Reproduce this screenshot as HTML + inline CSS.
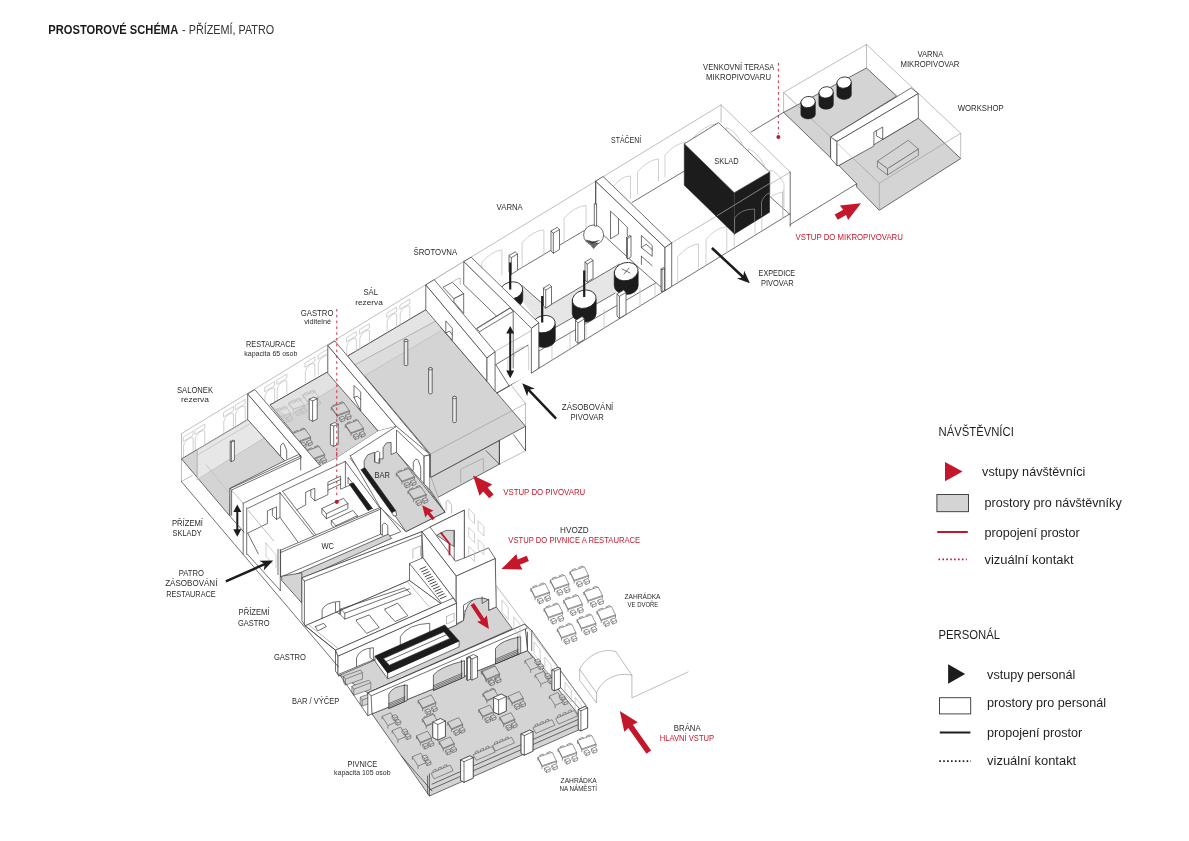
<!DOCTYPE html>
<html lang="cs">
<head>
<meta charset="utf-8">
<title>Prostorové schéma - přízemí, patro</title>
<style>
html,body{margin:0;padding:0;background:#fff;}
body{width:1189px;height:841px;overflow:hidden;font-family:"Liberation Sans",sans-serif;}
svg{display:block;}
text{font-family:"Liberation Sans",sans-serif;fill:#2b2b2b;}
.t{font-size:9.2px;}
.s{font-size:7.4px;}
.m{font-size:8px;}
.r{fill:#c4172c;}
.h{font-size:12.7px;fill:#1a1a1a;}
.lg{font-size:13.5px;fill:#1f1f1f;}
.lh{font-size:13.5px;fill:#1f1f1f;}
.g{fill:#d4d4d4;stroke:#333;stroke-width:.7;stroke-linejoin:round;}
.g0{fill:#d4d4d4;stroke:none;}
.g2{fill:#e6e6e6;stroke:none;}
.w{fill:#fff;stroke:#333;stroke-width:.7;stroke-linejoin:round;}
.w0{fill:#fff;stroke:none;}
.k{fill:#1c1c1c;stroke:#1c1c1c;stroke-width:.6;stroke-linejoin:round;}
.l{fill:none;stroke:#333;stroke-width:.7;stroke-linejoin:round;stroke-linecap:round;}
.n{fill:none;stroke:#9a9a9a;stroke-width:.65;stroke-linejoin:round;stroke-linecap:round;}
.n2{fill:none;stroke:#bcbcbc;stroke-width:.7;stroke-linejoin:round;stroke-linecap:round;}
.f{fill:none;stroke:#5c5c5c;stroke-width:.65;stroke-linejoin:round;}
.fw{fill:#fff;stroke:#666;stroke-width:.65;stroke-linejoin:round;}
.fg{fill:#d4d4d4;stroke:#5c5c5c;stroke-width:.65;stroke-linejoin:round;}
.ra{fill:#c4172c;stroke:none;}
.ka{fill:#1c1c1c;stroke:none;}
.rl{fill:none;stroke:#c4172c;stroke-width:2;}
.kl{fill:none;stroke:#1c1c1c;stroke-width:2;}
.rd{fill:none;stroke:#c4172c;stroke-width:.9;stroke-dasharray:2.6 3.2;}
</style>
</head>
<body>
<svg width="1189" height="841" viewBox="0 0 1189 841">
<rect width="1189" height="841" fill="#fff"/>
<polygon class="g" points="783.6,112.4 866.5,68 896.7,96.1 830.5,137.1 830.7,157.9"/>
<polygon class="g" points="838.9,165.5 918.4,118.2 960.7,158.6 879.3,210.3 856.6,187 856.6,183.8"/>
<polyline class="n" points="866.5,68 866.5,44.4"/>
<polyline class="n" points="783.6,92.4 866.5,44.4 960.7,133.3 879.3,183.2 783.6,92.4"/>
<polyline class="n" points="960.7,133.3 960.7,158.6"/>
<polyline class="n" points="879.3,183.2 879.3,210.3"/>
<polyline class="n" points="783.6,92.4 783.6,112.4"/>
<polygon class="w" points="830.5,137.1 911.2,87.9 918.2,93.6 837,141.5"/>
<polygon class="w" points="830.5,137.1 837,141.5 837,165.5 830.7,158.6"/>
<polygon class="w" points="837,141.5 918.2,93.6 918.4,118.2 882.7,139.3 882.7,127 873.9,132.1 873.9,146 838.9,165.5 837,165.5"/>
<polyline class="l" points="876.4,130.8 876.4,135.9 882.7,139.3"/>
<polyline class="n2" points="783.6,92.4 879.3,183.2"/>
<polygon class="fg" points="877.4,161.1 908.3,140.3 918.4,149.1 887.5,168.7"/>
<polygon class="fg" points="877.4,161.1 887.5,168.7 887.5,175 877.4,167.4"/>
<polygon class="fg" points="887.5,168.7 918.4,149.1 918.4,155.4 887.5,175"/>
<path class="k" d="M800.9 102.1 v12.3 a7.2 4.5 0 0 0 14.4 0 v-12.3 z"/>
<ellipse cx="808.1" cy="102.1" rx="7.2" ry="5.6" fill="#fff" stroke="#1c1c1c" stroke-width=".8" transform="rotate(-10 808.1 102.1)"/>
<path class="k" d="M818.9 92.4 v12.3 a7.2 4.5 0 0 0 14.4 0 v-12.3 z"/>
<ellipse cx="826.1" cy="92.4" rx="7.2" ry="5.6" fill="#fff" stroke="#1c1c1c" stroke-width=".8" transform="rotate(-10 826.1 92.4)"/>
<path class="k" d="M836.9 82.6 v12.3 a7.2 4.5 0 0 0 14.4 0 v-12.3 z"/>
<ellipse cx="844.1" cy="82.6" rx="7.2" ry="5.6" fill="#fff" stroke="#1c1c1c" stroke-width=".8" transform="rotate(-10 844.1 82.6)"/>
<line class="rd" x1="778.4" y1="63" x2="778.4" y2="134"/>
<circle cx="778.4" cy="137" r="2" fill="#c4172c"/>
<polyline class="l" points="783.6,112.4 750.9,132.1"/>
<polyline class="l" points="856.6,183.8 790.1,224.6"/>
<polyline class="n" points="181.5,433.6 721.1,104.8 790.2,172.1"/>
<polyline class="n" points="721.1,104.8 721.1,122"/>
<polyline class="n" points="790.2,172.1 671.7,242.9"/>
<polyline class="l" points="632,202.5 684.1,171.2"/>
<path class="n2" d="M613 208.7 L613 186.7 Q621.8 175.8 630.5 176 L630.5 198"/>
<path class="n2" d="M637.5 193.8 L637.5 171.8 Q648 159.8 658.5 159 L658.5 181"/>
<path class="n2" d="M665 177 L665 155 Q675.5 143 686 142.2 L686 164.2"/>
<path class="n2" d="M693 159.9 L693 137.9 Q704.5 125.3 716 123.9 L716 145.9"/>
<path class="n2" d="M726 151.5 L726 127.5 Q734 129.7 742 143 L742 167"/>
<path class="n2" d="M748 172.8 L748 148.8 Q756 151 764 164.3 L764 188.3"/>
<path class="n2" d="M770 194.1 L770 170.1 Q777 171.3 784 183.7 L784 207.7"/>
<polyline class="l" points="769.5,196.2 790.2,214.7"/>
<polyline class="l" points="790.2,172.1 790.2,226.4"/>
<polyline class="n2" points="783,190.3 783,217.2"/>
<polyline class="l" points="789.4,214.1 665,290.6"/>
<path class="n2" d="M677.7 282.8 L677.7 256.8 Q688.1 244.8 698.5 244 L698.5 270"/>
<path class="n2" d="M706 265.4 L706 239.4 Q716.4 227.4 726.8 226.6 L726.8 252.6"/>
<path class="n2" d="M734.2 248.1 L734.2 222.1 Q744.6 210.1 755 209.3 L755 235.3"/>
<path class="n2" d="M761.8 231.1 L761.8 205.1 Q772.2 193.1 782.6 192.3 L782.6 218.3"/>
<polygon class="k" points="684.3,143.8 734.3,192.7 734.5,234 684.3,185.2"/>
<polygon class="k" points="734.3,192.7 769.6,172 769.5,212.3 734.5,234"/>
<polygon class="w" points="684.3,143.8 718.6,122.6 769.6,172 734.3,192.7"/>
<polyline class="n" points="717.4,215.5 769.5,183.5" style="stroke:#bdbdbd"/>
<polyline class="n" points="734.3,192.7 734.5,234" style="stroke:#555;stroke-width:.5"/>
<path class="n" d="M734.6 232 v-14 q6 -9 20 -9 v12" style="stroke:#999"/>
<path class="n" d="M761.5 216 v-14 q3 -8 8 -9" style="stroke:#999"/>
<polyline class="l" points="517.8,270 584.3,230.5"/>
<path class="n2" d="M481.7 287.7 L481.7 262.7 Q491.8 250.7 501.9 250 L501.9 275"/>
<path class="n2" d="M522.1 267.5 L522.1 242.5 Q533 230.6 543.9 229.9 L543.9 254.9"/>
<path class="n2" d="M564.1 243.1 L564.1 218.1 Q575 206.2 586 205.5 L586 230.5"/>
<polygon class="w" points="538.8,351 665,277.5 665,290.6 538.8,368.3"/>
<polyline class="n2" points="552,360.2 552,342.2"/>
<polyline class="n2" points="570,349.1 570,331.1"/>
<polyline class="n2" points="586,339.2 586,321.2"/>
<polyline class="n2" points="604,328.2 604,310.2"/>
<polyline class="n2" points="622,317.1 622,299.1"/>
<polyline class="n2" points="640,306 640,288"/>
<polyline class="n2" points="655,296.8 655,278.8"/>
<polygon class="g2" points="522.3,285.8 546.5,307.3 619.2,264.2 619.2,290.5 553.2,328.8 539.1,323.4 516.9,293.8"/>
<polyline class="l" points="522.3,285.8 546.5,307.3 619.2,264.2"/>
<polyline class="l" points="553.2,328.8 615.1,293.2"/>
<polygon class="w" points="595.7,181.2 665,247.6 665,290.6 640,268.6 595.7,228"/>
<polygon class="w" points="595.7,181.2 603.1,176.5 671.7,242.9 665,247.6"/>
<polygon class="w" points="665,247.6 671.7,242.9 671.7,286.5 665,290.6"/>
<polygon class="w" points="610.5,211.2 618.5,218.6 618.5,234.1 610.5,238.8"/>
<polyline class="l" points="618.5,218.6 627.3,227.4 627.3,236.1"/>
<polygon class="w" points="641.4,235.4 652.2,245.5 652.2,256.3 641.4,247.6"/>
<polyline class="l" points="641.4,247.6 646.1,244.2 652.2,249.6"/>
<polyline class="l" points="641.4,256.3 652.2,265.7"/>
<polyline class="l" points="641.4,256.3 641.4,264.4"/>
<circle cx="593.6" cy="235" r="10" fill="#fff" stroke="#333" stroke-width=".7"/>
<polygon class="k" points="585.6,239.5 599,242.9 593.6,248.9" style="fill:#666;stroke:none"/>
<polyline class="l" points="592.3,242.9 599.2,240.5"/>
<polyline class="l" points="592.3,242.9 597,240.9"/>
<polyline class="l" points="592.3,242.9 593.6,241.2"/>
<polyline class="l" points="592.3,242.9 589.7,241.2"/>
<polyline class="l" points="592.3,242.9 586.3,240.9"/>
<polygon class="w" points="594.3,203.8 596.6,203.8 596.6,226 594.3,226"/>
<polyline class="l" points="595.7,181.2 595.7,203.8"/>
<polygon class="w" points="551,231 557.2,227.3 559.5,229.5 559.5,249.5 553.3,253.2 551,251"/>
<polyline class="l" points="551,231 553.3,233.2 559.5,229.5"/>
<polyline class="l" points="553.3,233.2 553.3,253.2"/>
<polygon class="w" points="509,255.5 515.2,251.8 517.5,254 517.5,270.5 511.3,274.2 509,272"/>
<polyline class="l" points="509,255.5 511.3,257.7 517.5,254"/>
<polyline class="l" points="511.3,257.7 511.3,274.2"/>
<polygon class="w" points="585,262 590.8,258.5 593,260.5 593,278.5 587.2,282.1 585,280"/>
<polyline class="l" points="585,262 587.2,264.1 593,260.5"/>
<polyline class="l" points="587.2,264.1 587.2,282.1"/>
<polygon class="w" points="543.5,288 549.3,284.5 551.5,286.5 551.5,304.5 545.7,308.1 543.5,306"/>
<polyline class="l" points="543.5,288 545.7,290.1 551.5,286.5"/>
<polyline class="l" points="545.7,290.1 545.7,308.1"/>
<polygon class="w" points="626.5,237.5 630,235.4 631,236.3 631,256.8 627.5,258.9 626.5,258"/>
<polyline class="l" points="626.5,237.5 627.5,238.4 631,236.3"/>
<polyline class="l" points="627.5,238.4 627.5,258.9"/>
<polygon class="w" points="661,269 663.4,267.6 664.4,268.5 664.4,290.5 662,291.9 661,291"/>
<polyline class="l" points="661,269 662,269.9 664.4,268.5"/>
<polyline class="l" points="662,269.9 662,291.9"/>
<path class="k" d="M499.8 290.5 v9 a11.5 8.5 0 0 0 23 0 v-9 z"/>
<ellipse cx="511.3" cy="290.5" rx="11.5" ry="8.5" fill="#fff" stroke="#1c1c1c" stroke-width=".8" transform="rotate(-14 511.3 290.5)"/>
<path class="k" d="M572.2 299.2 v14 a12 9 0 0 0 24 0 v-14 z"/>
<ellipse cx="584.2" cy="299.2" rx="12" ry="9" fill="#fff" stroke="#1c1c1c" stroke-width=".8" transform="rotate(-14 584.2 299.2)"/>
<path class="k" d="M614.2 271.6 v14 a12 9 0 0 0 24 0 v-14 z"/>
<ellipse cx="626.2" cy="271.6" rx="12" ry="9" fill="#fff" stroke="#1c1c1c" stroke-width=".8" transform="rotate(-14 626.2 271.6)"/>
<path class="k" d="M532.3 324.1 v15 a11.5 8.5 0 0 0 23 0 v-15 z"/>
<ellipse cx="543.8" cy="324.1" rx="11.5" ry="8.5" fill="#fff" stroke="#1c1c1c" stroke-width=".8" transform="rotate(-14 543.8 324.1)"/>
<polyline class="l" points="622,269 630,273"/>
<polyline class="l" points="624,274 629,268"/>
<line x1="510.2" y1="262.5" x2="510.2" y2="289.5" stroke="#1c1c1c" stroke-width="2.2"/>
<line x1="542.2" y1="296" x2="542.2" y2="322.5" stroke="#1c1c1c" stroke-width="2.2"/>
<line x1="584.2" y1="270.5" x2="584.2" y2="297" stroke="#1c1c1c" stroke-width="2.2"/>
<polygon class="w" points="575.5,320.5 582.1,316.6 584.5,318.9 584.5,339.4 577.9,343.3 575.5,341"/>
<polyline class="l" points="575.5,320.5 577.9,322.8 584.5,318.9"/>
<polyline class="l" points="577.9,322.8 577.9,343.3"/>
<polygon class="w" points="617,294 623.6,290.1 626,292.4 626,314.4 619.4,318.3 617,316"/>
<polyline class="l" points="617,294 619.4,296.3 626,292.4"/>
<polyline class="l" points="619.4,296.3 619.4,318.3"/>
<polygon class="g" points="347.8,356 425.8,309.8 525.5,426.3 430.5,477.6 430.5,454.1"/>
<polygon class="g2" points="347.8,356 425.8,309.8 440.3,318.5 355.2,364.7" style="fill:#e4e4e4"/>
<polygon class="g2" points="355.2,364.7 440.3,318.5 440.3,331.1 364.4,375.8" style="fill:#dcdcdc"/>
<polyline class="n" points="355.2,364.7 440.3,318.5"/>
<polyline class="n2" points="364.4,375.8 440.3,331.1"/>
<polyline class="l" points="347.8,356 425.8,309.8"/>
<polygon class="g" points="430.5,477.6 499.4,440.6 499.4,464.2 437.2,497.8"/>
<polyline class="n" points="460.7,482.7 460.7,469.2 483.4,458.3 483.4,470.9"/>
<polyline class="n" points="430.5,454.1 525.5,403.6 525.5,450.7 499.4,464.2"/>
<polyline class="l" points="499.4,440.6 499.4,464.2"/>
<polyline class="l" points="513.7,434.8 525.5,450.7"/>
<polyline class="l" points="525.5,426.3 525.5,450.7"/>
<polyline class="n" points="511.2,385.1 525.5,403.6"/>
<polyline class="l" points="486,450.7 499.4,464.2"/>
<path class="w" d="M404.2 340.5 v24 a1.8 1.2 0 0 0 3.6 0 v-24 a1.8 1.2 0 0 0 -3.6 0 z" style="fill:#e9e9e9"/>
<ellipse cx="406" cy="340.5" rx="1.8" ry="1.2" class="w" style="fill:#f4f4f4"/>
<path class="w" d="M428.6 368.8 v24 a1.8 1.2 0 0 0 3.6 0 v-24 a1.8 1.2 0 0 0 -3.6 0 z" style="fill:#e9e9e9"/>
<ellipse cx="430.4" cy="368.8" rx="1.8" ry="1.2" class="w" style="fill:#f4f4f4"/>
<path class="w" d="M452.7 397.5 v24 a1.8 1.2 0 0 0 3.6 0 v-24 a1.8 1.2 0 0 0 -3.6 0 z" style="fill:#e9e9e9"/>
<ellipse cx="454.5" cy="397.5" rx="1.8" ry="1.2" class="w" style="fill:#f4f4f4"/>
<polyline class="l" points="538.8,368.3 497.1,392.9"/>
<polygon class="w0" points="434.2,279.7 463.8,261.5 531.4,328.3 531.4,374.4 495.1,391.5 495.1,351.8"/>
<polyline class="n" points="434.2,279.7 463.8,261.5"/>
<polygon class="w" points="463.8,261.5 510.7,307.4 496.5,316.1 463.7,284.4"/>
<polyline class="l" points="496.5,316.1 476.9,328.2"/>
<polygon class="w" points="443,287.2 452.3,282.3 463.7,293.7 453.9,298.7"/>
<polygon class="w" points="453.9,298.7 463.7,293.7 463.7,313.4 453.9,301.9"/>
<path class="n" d="M452.3 282.3 q4 -4 8 -4 v6"/>
<polygon class="w" points="463.8,261.5 471.2,257.2 538.8,322.9 531.4,328.3"/>
<polygon class="w" points="531.4,328.3 538.8,322.9 538.8,368.3 531.4,373.1"/>
<polyline class="l" points="513.2,311.4 513.2,368"/>
<polyline class="n" points="479.6,331.6 479.6,349"/>
<polyline class="l" points="495.8,364.6 528,345.1"/>
<polyline class="n" points="495.8,351.1 530.7,331"/>
<polyline class="n2" points="507.9,374.7 507.9,357.9"/>
<path class="n2" d="M514.6 356.5 V351.8 Q520 346.4 528.7 346.4 V370"/>
<polyline class="l" points="497.1,392.9 509.2,386.1"/>
<polyline class="l" points="495.8,364.6 509.2,386.1"/>
<polygon class="w" points="476.6,328.8 510.3,308 513.2,311.4 479.6,331.6"/>
<polygon class="w" points="425.8,284.8 487,357.9 487,381.3 425.8,309.8"/>
<polygon class="w" points="425.8,284.8 434.2,279.7 495.1,351.8 487,357.9"/>
<polygon class="w" points="487,357.9 495.1,351.8 495.1,391.5 487,381.3"/>
<polygon class="w" points="445.8,320.9 452.3,328.3 452.3,340.3 445.8,332.9"/>
<polyline class="l" points="445.8,332.9 449.5,331.1 452.3,334.8"/>
<line x1="510.2" y1="331" x2="510.2" y2="373" stroke="#1c1c1c" stroke-width="2"/>
<polygon class="ka" points="510.2,326 514.2,333.5 506.2,333.5"/>
<polygon class="ka" points="510.2,378.2 514.2,370.5 506.2,370.5"/>
<polyline class="n" points="181.5,433.6 181.5,481.4"/>
<path class="n2" d="M183.5 437 L193.1 431.1 L193.1 435.4 L183.5 441.3 Z"/>
<path class="n2" d="M183.5 456.9 L183.5 446.6 C183.8 442.6 188.8 436.3 193.1 438.1 L193.1 451"/>
<path class="n2" d="M195.2 429.9 L204.8 424 L204.8 428.3 L195.2 434.2 Z"/>
<path class="n2" d="M195.2 449.8 L195.2 439.5 C195.5 435.5 200.5 429.2 204.8 431 L204.8 443.9"/>
<path class="n2" d="M223.8 412.4 L233.4 406.6 L233.4 410.9 L223.8 416.7 Z"/>
<path class="n2" d="M223.8 432.3 L223.8 422 C224.1 418 229.1 411.8 233.4 413.6 L233.4 426.5"/>
<path class="n2" d="M235.6 405.2 L245.2 399.4 L245.2 403.7 L235.6 409.5 Z"/>
<path class="n2" d="M235.6 425.1 L235.6 414.8 C235.9 410.8 240.9 404.6 245.2 406.4 L245.2 419.3"/>
<path class="n2" d="M265 387.3 L274.6 381.5 L274.6 385.8 L265 391.6 Z"/>
<path class="n2" d="M265 407.2 L265 396.9 C265.3 392.9 270.3 386.7 274.6 388.5 L274.6 401.4"/>
<path class="n2" d="M277.2 379.9 L286.8 374 L286.8 378.3 L277.2 384.2 Z"/>
<path class="n2" d="M277.2 399.8 L277.2 389.5 C277.5 385.5 282.5 379.2 286.8 381 L286.8 393.9"/>
<path class="n2" d="M305.3 362.8 L314.9 356.9 L314.9 361.2 L305.3 367.1 Z"/>
<path class="n2" d="M305.3 382.7 L305.3 372.4 C305.6 368.4 310.6 362.1 314.9 363.9 L314.9 376.8"/>
<path class="n2" d="M318.3 354.8 L327.9 349 L327.9 353.3 L318.3 359.1 Z"/>
<path class="n2" d="M318.3 374.7 L318.3 364.4 C318.6 360.4 323.6 354.2 327.9 356 L327.9 368.9"/>
<path class="n2" d="M346.7 337.5 L356.3 331.7 L356.3 336 L346.7 341.8 Z"/>
<path class="n2" d="M346.7 357.4 L346.7 347.1 C347 343.1 352 336.9 356.3 338.7 L356.3 351.6"/>
<path class="n2" d="M359.8 329.6 L369.4 323.7 L369.4 328 L359.8 333.9 Z"/>
<path class="n2" d="M359.8 349.5 L359.8 339.2 C360.1 335.2 365.1 328.9 369.4 330.7 L369.4 343.6"/>
<path class="n2" d="M387.1 312.9 L396.7 307.1 L396.7 311.4 L387.1 317.2 Z"/>
<path class="n2" d="M387.1 332.8 L387.1 322.5 C387.4 318.5 392.4 312.3 396.7 314.1 L396.7 327"/>
<path class="n2" d="M400.2 304.9 L409.8 299.1 L409.8 303.4 L400.2 309.2 Z"/>
<path class="n2" d="M400.2 324.8 L400.2 314.5 C400.5 310.5 405.5 304.3 409.8 306.1 L409.8 319"/>
<polygon class="g" points="181.5,458.9 247.7,419.5 284.7,460.8 230.2,488.1 229.8,516"/>
<polygon class="w0" points="197.2,450.1 263.8,410.5 263.8,438.1 197.2,479.4" style="fill:#fff;fill-opacity:.45"/>
<polyline class="n" points="197.2,450.1 197.2,479.4"/>
<polyline class="n" points="263.8,410.5 263.8,438.1"/>
<polyline class="n2" points="197.2,455.2 263.8,415.5"/>
<polyline class="n2" points="197.2,479.4 263.8,438.1"/>
<polyline class="n2" points="197.2,450.1 263.8,410.5"/>
<polyline class="n2" points="206,464.6 230.2,494.2"/>
<polygon class="w" points="230.2,441.5 233.2,440.1 234.4,440.8 234.4,460.2 231.4,461.6 230.2,461"/>
<polyline class="l" points="230.2,441.5 231.4,442.1 234.4,440.8"/>
<polyline class="l" points="231.4,442.1 231.4,461.6"/>
<polyline class="n" points="181.5,481.4 192.5,475.4"/>
<polygon class="g" points="270.1,404.9 327.3,372.1 343.2,389.4 378.2,431.1 336.5,458 320.4,466.1"/>
<polygon class="g2" points="270.1,404.9 327.3,372.1 339.2,384.7 288.1,416.3" style="fill:#e2e2e2"/>
<polyline class="n2" points="288.1,416.3 339.2,384.7"/>
<polyline class="l" points="270.1,404.9 327.3,372.1"/>
<polygon class="n2" points="276.4,409.3 280.1,407.8 282,410 278.3,411.5" style="fill:none"/>
<polygon class="n2" points="281.9,407.3 285.6,405.8 287.5,408 283.8,409.5" style="fill:none"/>
<polyline class="n2" points="275,411 275,414.2"/>
<polyline class="n2" points="279.3,417 279.3,420.2"/>
<polyline class="n2" points="290.3,412.9 290.3,416.1"/>
<polygon class="n2" points="275,411 286,406.9 290.3,412.9 290.3,413.8 279.3,417.9 275,411.9"/>
<polyline class="n2" points="275,411 279.3,417 290.3,412.9"/>
<polygon class="n2" points="281.5,419.4 285.2,417.9 287.1,420.1 287.1,422.4 283.4,423.9 281.5,421.7" style="fill:none"/>
<polyline class="n2" points="281.5,419.4 283.4,421.6 287.1,420.1"/>
<polyline class="n2" points="283.4,421.6 283.4,423.9"/>
<polygon class="n2" points="287,417.3 290.7,415.8 292.6,418 292.6,420.3 288.9,421.8 287,419.6" style="fill:none"/>
<polyline class="n2" points="287,417.3 288.9,419.5 292.6,418"/>
<polyline class="n2" points="288.9,419.5 288.9,421.8"/>
<polygon class="n2" points="290.4,401.3 294.1,399.8 296,402 292.3,403.5" style="fill:none"/>
<polygon class="n2" points="295.9,399.3 299.6,397.8 301.5,400 297.8,401.5" style="fill:none"/>
<polyline class="n2" points="289,403 289,406.2"/>
<polyline class="n2" points="293.3,409 293.3,412.2"/>
<polyline class="n2" points="304.3,404.9 304.3,408.1"/>
<polygon class="n2" points="289,403 300,398.9 304.3,404.9 304.3,405.8 293.3,409.9 289,403.9"/>
<polyline class="n2" points="289,403 293.3,409 304.3,404.9"/>
<polygon class="n2" points="295.5,411.4 299.2,409.9 301.1,412.1 301.1,414.4 297.4,415.9 295.5,413.7" style="fill:none"/>
<polyline class="n2" points="295.5,411.4 297.4,413.6 301.1,412.1"/>
<polyline class="n2" points="297.4,413.6 297.4,415.9"/>
<polygon class="n2" points="301,409.3 304.7,407.8 306.6,410 306.6,412.3 302.9,413.8 301,411.6" style="fill:none"/>
<polyline class="n2" points="301,409.3 302.9,411.5 306.6,410"/>
<polyline class="n2" points="302.9,411.5 302.9,413.8"/>
<polygon class="n2" points="304.4,393.3 308.1,391.8 310,394 306.3,395.5" style="fill:none"/>
<polygon class="n2" points="309.9,391.3 313.6,389.8 315.5,392 311.8,393.5" style="fill:none"/>
<polyline class="n2" points="303,395 303,398.2"/>
<polyline class="n2" points="307.3,401 307.3,404.2"/>
<polyline class="n2" points="318.3,396.9 318.3,400.1"/>
<polygon class="n2" points="303,395 314,390.9 318.3,396.9 318.3,397.8 307.3,401.9 303,395.9"/>
<polyline class="n2" points="303,395 307.3,401 318.3,396.9"/>
<polygon class="n2" points="309.5,403.4 313.2,401.9 315.1,404.1 315.1,406.4 311.4,407.9 309.5,405.7" style="fill:none"/>
<polyline class="n2" points="309.5,403.4 311.4,405.6 315.1,404.1"/>
<polyline class="n2" points="311.4,405.6 311.4,407.9"/>
<polygon class="n2" points="315,401.3 318.7,399.8 320.6,402 320.6,404.3 316.9,405.8 315,403.6" style="fill:none"/>
<polyline class="n2" points="315,401.3 316.9,403.5 320.6,402"/>
<polyline class="n2" points="316.9,403.5 316.9,405.8"/>
<polygon class="f" points="332.8,405.5 336.5,404 338.4,406.2 334.7,407.7" style="fill:#d4d4d4"/>
<polygon class="f" points="339,403.2 342.7,401.7 344.6,403.9 340.9,405.4" style="fill:#d4d4d4"/>
<polyline class="f" points="331.3,407.2 331.3,410.4"/>
<polyline class="f" points="337,415.2 337,418.4"/>
<polyline class="f" points="349.4,410.6 349.4,413.8"/>
<polygon class="fg" points="331.3,407.2 343.7,402.6 349.4,410.6 349.4,411.5 337,416.1 331.3,408.1"/>
<polyline class="f" points="331.3,407.2 337,415.2 349.4,410.6"/>
<polygon class="f" points="339.3,417.5 343,416 344.9,418.2 344.9,420.5 341.2,422 339.3,419.8" style="fill:#d4d4d4"/>
<polyline class="f" points="339.3,417.5 341.2,419.7 344.9,418.2"/>
<polyline class="f" points="341.2,419.7 341.2,422"/>
<polygon class="f" points="345.5,415.2 349.2,413.7 351.1,415.9 351.1,418.2 347.4,419.7 345.5,417.5" style="fill:#d4d4d4"/>
<polyline class="f" points="345.5,415.2 347.4,417.4 351.1,415.9"/>
<polyline class="f" points="347.4,417.4 347.4,419.7"/>
<polygon class="f" points="346.8,423.1 350.5,421.6 352.4,423.8 348.7,425.3" style="fill:#d4d4d4"/>
<polygon class="f" points="353,420.8 356.7,419.3 358.6,421.5 354.9,423" style="fill:#d4d4d4"/>
<polyline class="f" points="345.3,424.8 345.3,428"/>
<polyline class="f" points="351,432.8 351,436"/>
<polyline class="f" points="363.4,428.2 363.4,431.4"/>
<polygon class="fg" points="345.3,424.8 357.7,420.2 363.4,428.2 363.4,429.1 351,433.7 345.3,425.7"/>
<polyline class="f" points="345.3,424.8 351,432.8 363.4,428.2"/>
<polygon class="f" points="353.3,435.1 357,433.6 358.9,435.8 358.9,438.1 355.2,439.6 353.3,437.4" style="fill:#d4d4d4"/>
<polyline class="f" points="353.3,435.1 355.2,437.3 358.9,435.8"/>
<polyline class="f" points="355.2,437.3 355.2,439.6"/>
<polygon class="f" points="359.5,432.8 363.2,431.3 365.1,433.5 365.1,435.8 361.4,437.3 359.5,435.1" style="fill:#d4d4d4"/>
<polyline class="f" points="359.5,432.8 361.4,435 365.1,433.5"/>
<polyline class="f" points="361.4,435 361.4,437.3"/>
<polygon class="f" points="294,431.8 297.7,430.3 299.6,432.5 295.9,434" style="fill:#d4d4d4"/>
<polygon class="f" points="300.2,429.5 303.9,428 305.8,430.2 302.1,431.7" style="fill:#d4d4d4"/>
<polyline class="f" points="292.5,433.5 292.5,436.7"/>
<polyline class="f" points="298.2,441.5 298.2,444.7"/>
<polyline class="f" points="310.6,436.9 310.6,440.1"/>
<polygon class="fg" points="292.5,433.5 304.9,428.9 310.6,436.9 310.6,437.8 298.2,442.4 292.5,434.4"/>
<polyline class="f" points="292.5,433.5 298.2,441.5 310.6,436.9"/>
<polygon class="f" points="300.5,443.8 304.2,442.3 306.1,444.5 306.1,446.8 302.4,448.3 300.5,446.1" style="fill:#d4d4d4"/>
<polyline class="f" points="300.5,443.8 302.4,446 306.1,444.5"/>
<polyline class="f" points="302.4,446 302.4,448.3"/>
<polygon class="f" points="306.7,441.5 310.4,440 312.3,442.2 312.3,444.5 308.6,446 306.7,443.8" style="fill:#d4d4d4"/>
<polyline class="f" points="306.7,441.5 308.6,443.7 312.3,442.2"/>
<polyline class="f" points="308.6,443.7 308.6,446"/>
<polygon class="f" points="308,449.3 311.7,447.8 313.6,450 309.9,451.5" style="fill:#d4d4d4"/>
<polygon class="f" points="314.2,447 317.9,445.5 319.8,447.7 316.1,449.2" style="fill:#d4d4d4"/>
<polyline class="f" points="306.5,451 306.5,454.2"/>
<polyline class="f" points="312.2,459 312.2,462.2"/>
<polyline class="f" points="324.6,454.4 324.6,457.6"/>
<polygon class="fg" points="306.5,451 318.9,446.4 324.6,454.4 324.6,455.3 312.2,459.9 306.5,451.9"/>
<polyline class="f" points="306.5,451 312.2,459 324.6,454.4"/>
<polygon class="f" points="314.5,461.3 318.2,459.8 320.1,462 320.1,464.3 316.4,465.8 314.5,463.6" style="fill:#d4d4d4"/>
<polyline class="f" points="314.5,461.3 316.4,463.5 320.1,462"/>
<polyline class="f" points="316.4,463.5 316.4,465.8"/>
<polygon class="f" points="320.7,459 324.4,457.5 326.3,459.7 326.3,462 322.6,463.5 320.7,461.3" style="fill:#d4d4d4"/>
<polyline class="f" points="320.7,459 322.6,461.2 326.3,459.7"/>
<polyline class="f" points="322.6,461.2 322.6,463.5"/>
<polygon class="w" points="309.2,399.2 313.8,397.1 317.2,398.8 317.2,419.1 312.6,421.2 309.2,419.5"/>
<polyline class="l" points="309.2,399.2 312.6,400.9 317.2,398.8"/>
<polyline class="l" points="312.6,400.9 312.6,421.2"/>
<polygon class="w" points="330.4,424.5 334.9,422.5 338.2,424.1 338.2,444.3 333.7,446.3 330.4,444.7"/>
<polyline class="l" points="330.4,424.5 333.7,426.1 338.2,424.1"/>
<polyline class="l" points="333.7,426.1 333.7,446.3"/>
<polygon class="w" points="247.7,393.9 312.3,469.3 298.8,454.5 284.7,460.8 247.7,419.5"/>
<polygon class="w" points="247.7,393.9 254.9,389.7 320.4,466.1 312.3,469.3"/>
<path class="w" d="M280.6 456.5 V445.8 q1.5 -3 3 -2.4 L286.7 450.1 V459.2"/>
<polygon class="w" points="327.8,345.5 396.4,426.4 378.2,431.1 327.8,373.3"/>
<polygon class="w" points="327.8,345.5 334.8,340.9 429.4,454 429.4,457 396.4,426.4"/>
<polygon class="w" points="354,385.4 360.7,392.1 360.7,411 354,397.5"/>
<polyline class="l" points="354,397.5 357.4,396.1 360.7,399.5"/>
<line class="rd" x1="336.8" y1="309" x2="336.8" y2="498"/>
<circle cx="336.8" cy="501.5" r="2" fill="#c4172c"/>
<polygon class="w0" points="230,488.7 300.7,456 320.4,466.1 336.5,458 378.2,431.1 396.4,426.4 429.4,454 400.8,531.7 280.6,579.6 243.2,553.8 243.2,514.4 230,514.4"/>
<polyline class="l" points="230,488.7 300.7,456"/>
<polyline class="l" points="231.6,490 301.5,457.6"/>
<polyline class="l" points="230,488.7 230,514.4"/>
<polyline class="l" points="231.6,490 231.6,515.4"/>
<polyline class="l" points="300.7,456 300.7,470"/>
<polyline class="l" points="243.2,503.3 320.4,466.1"/>
<polyline class="l" points="243.2,503.3 243.2,554.3"/>
<polyline class="l" points="246.7,507.8 246.7,554.3"/>
<polyline class="n" points="231.6,490 243.2,503.3"/>
<polyline class="l" points="247.7,508.4 280,492.7"/>
<polyline class="l" points="247.7,533.1 267.4,523.5 267.4,510.9 276.5,506.8 276.5,519.5 280,517.4"/>
<polyline class="l" points="272.4,508.9 272.4,515.4 276.5,519.5"/>
<polyline class="l" points="280,492.7 280,517.4 297.7,541.7"/>
<polyline class="l" points="247.7,533.1 258.3,553.8"/>
<polyline class="n" points="248.2,510.4 273.4,540.6"/>
<polyline class="l" points="280,492.7 313.8,535.6"/>
<polyline class="l" points="282.5,491.2 315.8,534.6"/>
<polyline class="l" points="282.5,491.2 345.4,461.4"/>
<polyline class="l" points="296.7,509.9 305.7,504.8 305.7,492.2 314.8,488.2 314.8,500.8 327.9,494.7 327.9,482.1 340.6,476.1 340.6,489.2 350.1,485.1"/>
<polyline class="l" points="310.8,490.2 310.8,496.7 314.8,500.8"/>
<polyline class="l" points="327.9,485.1 340.6,479.6"/>
<polyline class="l" points="327.9,490.2 340.6,484.1"/>
<polyline class="n" points="282.5,491.2 296.7,509.9"/>
<polygon class="w" points="321.9,508.5 343.4,498.4 347.9,503.6 347.9,508.6 326.4,518.7 321.9,513.5"/>
<polyline class="l" points="321.9,508.5 326.4,513.7 347.9,503.6"/>
<polyline class="l" points="326.4,513.7 326.4,518.7"/>
<polygon class="w" points="331.3,520.6 352.8,510.5 357.4,515.7 357.4,519.7 335.9,529.8 331.3,524.6"/>
<polyline class="l" points="331.3,520.6 335.9,525.8 357.4,515.7"/>
<polyline class="l" points="335.9,525.8 335.9,529.8"/>
<polyline class="l" points="345.4,461.4 379.8,507.9"/>
<polyline class="l" points="350.1,458.3 385,503.8"/>
<polyline class="l" points="345.4,461.4 345.4,486.3"/>
<polyline class="l" points="348.1,477.6 348.1,483.6"/>
<polyline class="l" points="348.1,477.6 373,509.2"/>
<polygon class="k" points="349.2,484.1 353.4,482.9 372.2,508.6 368,510.6"/>
<polygon class="w" points="280.6,550.2 380.6,507.3 380.6,534.2 280.6,577.1"/>
<polyline class="l" points="280.9,552.4 380.1,509.3"/>
<polyline class="l" points="278,549.3 278,574.6"/>
<circle cx="336.8" cy="501.8" r="2.1" fill="#c4172c"/>
<line class="rd" x1="336.8" y1="452" x2="336.8" y2="498"/>
<line x1="237.3" y1="509" x2="237.3" y2="532" stroke="#1c1c1c" stroke-width="2"/>
<polygon class="ka" points="237.3,504.5 241.3,512 233.3,512"/>
<polygon class="ka" points="237.3,536.8 241.3,529.3 233.3,529.3"/>
<polygon class="w" points="350,456 396.4,426.4 429.4,454 429.5,454.9 424.1,456.2 424.1,483.8 445,512.1 405.9,531.6 380.4,508 350.1,455.6"/>
<polygon class="g" points="364.2,470.4 364.2,460.7 367.6,454.9 374.7,452.2 374.7,462 379,463.4 379,458.9 383.1,458.9 383.1,447.5 386.4,442.9 391.1,442.4 391.1,454.5 396.5,452.2 420.7,481.8 445,512.1 405.9,531.6"/>
<polygon class="w" points="396.5,430 424.1,456.2 424.1,483.8 396.5,452.2"/>
<path class="w" d="M413.3 470.4 V462.3 q2.5 -5 5 -2 L420.7 467 V479.8"/>
<polygon class="w" points="424.1,456.2 429.5,454.9 429.5,489.2 424.1,483.8"/>
<path class="l" d="M374.7 462 V453.5 q3 -4 5 -1 V463"/>
<polygon class="k" points="360.9,469.7 364.9,467.7 395.8,510.7 391.8,512.8"/>
<polygon class="w" points="391.8,512.8 395.8,510.7 396.5,515.4 393.8,516.1"/>
<polygon class="f" points="397.8,471.5 401.5,470 403.4,472.2 399.7,473.7" style="fill:#d4d4d4"/>
<polygon class="f" points="404,469.2 407.7,467.7 409.6,469.9 405.9,471.4" style="fill:#d4d4d4"/>
<polyline class="f" points="396.3,473.2 396.3,476.4"/>
<polyline class="f" points="402,481.2 402,484.4"/>
<polyline class="f" points="414.4,476.6 414.4,479.8"/>
<polygon class="fg" points="396.3,473.2 408.7,468.6 414.4,476.6 414.4,477.5 402,482.1 396.3,474.1"/>
<polyline class="f" points="396.3,473.2 402,481.2 414.4,476.6"/>
<polygon class="f" points="404.3,483.5 408,482 409.9,484.2 409.9,486.5 406.2,488 404.3,485.8" style="fill:#d4d4d4"/>
<polyline class="f" points="404.3,483.5 406.2,485.7 409.9,484.2"/>
<polyline class="f" points="406.2,485.7 406.2,488"/>
<polygon class="f" points="410.5,481.2 414.2,479.7 416.1,481.9 416.1,484.2 412.4,485.7 410.5,483.5" style="fill:#d4d4d4"/>
<polyline class="f" points="410.5,481.2 412.4,483.4 416.1,481.9"/>
<polyline class="f" points="412.4,483.4 412.4,485.7"/>
<polygon class="f" points="409.5,489.3 413.2,487.8 415.1,490 411.4,491.5" style="fill:#d4d4d4"/>
<polygon class="f" points="415.7,487 419.4,485.5 421.3,487.7 417.6,489.2" style="fill:#d4d4d4"/>
<polyline class="f" points="408,491 408,494.2"/>
<polyline class="f" points="413.7,499 413.7,502.2"/>
<polyline class="f" points="426.1,494.4 426.1,497.6"/>
<polygon class="fg" points="408,491 420.4,486.4 426.1,494.4 426.1,495.3 413.7,499.9 408,491.9"/>
<polyline class="f" points="408,491 413.7,499 426.1,494.4"/>
<polygon class="f" points="416,501.3 419.7,499.8 421.6,502 421.6,504.3 417.9,505.8 416,503.6" style="fill:#d4d4d4"/>
<polyline class="f" points="416,501.3 417.9,503.5 421.6,502"/>
<polyline class="f" points="417.9,503.5 417.9,505.8"/>
<polygon class="f" points="422.2,499 425.9,497.5 427.8,499.7 427.8,502 424.1,503.5 422.2,501.3" style="fill:#d4d4d4"/>
<polyline class="f" points="422.2,499 424.1,501.2 427.8,499.7"/>
<polyline class="f" points="424.1,501.2 424.1,503.5"/>
<polygon class="g0" points="429.5,489.2 429.5,477.1 431.5,478.2 438.2,497.3 445,512.1"/>
<polyline class="l" points="429.5,489.2 445,512.1"/>
<polyline class="n" points="431.5,478.2 438.2,497.3"/>
<polygon class="w" points="421.9,531.7 456.2,576.1 456.2,611.1 421.9,570.7"/>
<polygon class="w" points="456.2,576.1 495.2,558.6 495.2,611.1 456.2,611.1"/>
<polygon class="w" points="421.9,531.7 430,527 464.3,510.2 464.3,558 488.5,547.9 495.2,558.6 456.2,576.1"/>
<polygon class="w" points="430,527 464.3,510.2 464.3,558 455.5,561.3"/>
<polygon class="g" points="436.7,535.1 446.1,530.4 454.2,530.4 454.2,546.5 449.5,543.8"/>
<polyline class="l" points="454.2,530.4 454.2,560"/>
<polyline class="rl" points="440.7,532.4 449.5,543.8 449.5,555.3" style="stroke-width:1.8"/>
<polygon class="w" points="409.1,563.3 421.9,558.6 446.1,601.7 435.4,601.7 409.1,570.7"/>
<polyline class="l" points="419.2,572.1 427.7,568.5" style="stroke-width:.9;stroke-linecap:butt"/>
<polyline class="l" points="420.8,574.6 429.3,571" style="stroke-width:.9;stroke-linecap:butt"/>
<polyline class="l" points="422.5,577 431,573.4" style="stroke-width:.9;stroke-linecap:butt"/>
<polyline class="l" points="424.1,579.5 432.6,575.9" style="stroke-width:.9;stroke-linecap:butt"/>
<polyline class="l" points="425.7,582 434.2,578.4" style="stroke-width:.9;stroke-linecap:butt"/>
<polyline class="l" points="427.3,584.4 435.8,580.8" style="stroke-width:.9;stroke-linecap:butt"/>
<polyline class="l" points="429,586.9 437.5,583.3" style="stroke-width:.9;stroke-linecap:butt"/>
<polyline class="l" points="430.6,589.4 439.1,585.8" style="stroke-width:.9;stroke-linecap:butt"/>
<polyline class="l" points="432.2,591.8 440.7,588.2" style="stroke-width:.9;stroke-linecap:butt"/>
<polyline class="l" points="433.8,594.3 442.3,590.7" style="stroke-width:.9;stroke-linecap:butt"/>
<polyline class="l" points="435.5,596.8 444,593.2" style="stroke-width:.9;stroke-linecap:butt"/>
<polyline class="l" points="437.1,599.2 445.6,595.6" style="stroke-width:.9;stroke-linecap:butt"/>
<polyline class="l" points="438.7,601.7 447.2,598.1" style="stroke-width:.9;stroke-linecap:butt"/>
<polyline class="n" points="413.2,549.2 421.2,545.8 421.2,557.3"/>
<polyline class="n" points="413.2,549.2 413.2,560"/>
<path class="n2" d="M469 508.8 l5.5 5.5 v9.5 l-5.5 -5.5 z"/>
<path class="n2" d="M478.4 521 l5.5 5.5 v9.5 l-5.5 -5.5 z"/>
<path class="n2" d="M469 527.7 l5.5 5.5 v9.5 l-5.5 -5.5 z"/>
<path class="n2" d="M478.4 539.8 l5.5 5.5 v9.5 l-5.5 -5.5 z"/>
<path class="n2" d="M469 546.5 l5.5 5.5 v9.5 l-5.5 -5.5 z"/>
<path class="n" d="M446.1 510.2 v-8 q1.5 -4 3.5 0 l2 3 v8"/>
<polygon class="w" points="380.6,507.3 400.8,531.7 388.2,536.7 380.6,534.2"/>
<path class="w" d="M382.3 535.9 V524.9 q2.5 -4 5.5 1 V535"/>
<polygon class="g" points="295.7,574.6 388.2,534.2 391.6,538.4 300.7,579.6"/>
<polygon class="g" points="281.7,576.2 301.9,572.8 301.9,603.1 281.7,580.4"/>
<polygon class="w" points="301.9,577.8 421.9,531.7 421.9,570.7 409.5,580.4 305.2,625.8 301.9,620.7"/>
<polygon class="w" points="301.9,577.8 304.4,581.2 422.9,534.7 421.9,531.7"/>
<polyline class="l" points="304.4,581.2 304.4,624.9"/>
<polygon class="w" points="305.2,625.8 409.5,580.4 441.5,603.9 453.3,598 335.5,650.2"/>
<path class="l" d="M322.1 618.7 V609.8 Q325.4 602.2 339.7 601.4 V614"/>
<polyline class="l" points="335.5,602.6 335.5,611.5 339.7,614"/>
<polyline class="l" points="340.6,609 404.5,587.9 411.2,593.8 344.8,619.1 340.6,614.9 340.6,609 344.8,613.2 409.5,588.8"/>
<polyline class="l" points="344.8,613.2 344.8,619.1"/>
<polyline class="l" points="356.5,619.9 369.2,614.9 379.2,627.5 366.6,633.4 356.5,621.6 356.5,619.9"/>
<polyline class="l" points="385.1,609 397.7,603.1 407.8,615.7 395.2,621.6 385.1,610.6 385.1,609"/>
<polyline class="l" points="315.3,626.6 323.7,623.3 326.3,626.6 317.8,630.8 315.3,626.6"/>
<polyline class="l" points="305.2,625.8 335.5,650.2"/>
<polyline class="n" points="307.8,624.1 337.2,647.7"/>
<polyline class="n" points="407.8,582.1 429.7,607.3"/>
<polygon class="w" points="409.5,563.5 423,557.7 454.1,598.9 441.5,603.9 409.5,580.4"/>
<polyline class="l" points="409.5,563.5 441.5,603.1"/>
<polyline class="l" points="419.6,569.4 426.1,566.6" style="stroke-width:.9;stroke-linecap:butt"/>
<polyline class="l" points="421.3,571.9 427.8,569.1" style="stroke-width:.9;stroke-linecap:butt"/>
<polyline class="l" points="423,574.3 429.5,571.5" style="stroke-width:.9;stroke-linecap:butt"/>
<polyline class="l" points="424.7,576.8 431.2,574" style="stroke-width:.9;stroke-linecap:butt"/>
<polyline class="l" points="426.3,579.2 432.8,576.4" style="stroke-width:.9;stroke-linecap:butt"/>
<polyline class="l" points="428,581.7 434.5,578.9" style="stroke-width:.9;stroke-linecap:butt"/>
<polyline class="l" points="429.7,584.2 436.2,581.4" style="stroke-width:.9;stroke-linecap:butt"/>
<polyline class="l" points="431.4,586.6 437.9,583.8" style="stroke-width:.9;stroke-linecap:butt"/>
<polyline class="l" points="433.1,589.1 439.6,586.3" style="stroke-width:.9;stroke-linecap:butt"/>
<polyline class="l" points="434.8,591.5 441.3,588.7" style="stroke-width:.9;stroke-linecap:butt"/>
<polyline class="l" points="436.4,594 442.9,591.2" style="stroke-width:.9;stroke-linecap:butt"/>
<polyline class="l" points="438.1,596.4 444.6,593.6" style="stroke-width:.9;stroke-linecap:butt"/>
<polyline class="l" points="439.8,598.9 446.3,596.1" style="stroke-width:.9;stroke-linecap:butt"/>
<polyline class="n" points="412.9,558.5 412.9,549.3 420.5,545.9 420.5,556"/>
<polygon class="w" points="421.9,531.7 456.2,576.1 456.2,604 454.1,598.9 423,557.7"/>
<path class="g" d="M338 676 L456.6 624.9 L463.5 620.4 Q465.2 600.2 479.5 596.8 L488.8 599.3 L488.8 610.3 L496.3 606.9 L512.3 628.8 L367.8 692.9 L340 675.2 Z"/>
<path class="w" d="M456.2 576.1 L495.2 558.6 L496.3 606.9 L488.8 610.3 L488.8 599.8 Q478.7 594.3 463.5 605.2 L463.5 620.4 L456.2 624 L456.2 600 Z"/>
<polyline class="l" points="488.8,599.3 482.1,603.5 482.1,596.8"/>
<polygon class="fg" points="343.4,676.1 360.4,670.1 362.4,672.6 362.4,679.1 345.4,685.1 343.4,682.1"/>
<polyline class="f" points="345.4,679.1 362.4,672.6"/>
<polyline class="f" points="343.4,676.1 345.4,679.1 345.4,685.1"/>
<polygon class="fg" points="351.8,686.2 368.8,680.2 370.8,682.7 370.8,689.2 353.8,695.2 351.8,692.2"/>
<polyline class="f" points="353.8,689.2 370.8,682.7"/>
<polyline class="f" points="351.8,686.2 353.8,689.2 353.8,695.2"/>
<polygon class="fg" points="360.2,697.1 377.2,691.1 379.2,693.6 379.2,700.1 362.2,706.1 360.2,703.1"/>
<polyline class="f" points="362.2,700.1 379.2,693.6"/>
<polyline class="f" points="360.2,697.1 362.2,700.1 362.2,706.1"/>
<polygon class="w" points="335.5,650.2 338,656.1 338,674.6 335.5,671.2"/>
<polygon class="w" points="338,656.1 456.6,603.1 456.6,624.9 338,674.6"/>
<polygon class="w" points="335.5,650.2 453.3,598 456.6,603.1 338,656.1"/>
<path class="l" d="M356.5 666.5 V657.7 Q359.9 648.5 373.4 647.7 V659.1"/>
<polyline class="l" points="370,648.5 370,657.7 373.4,660.3"/>
<path class="l" d="M400.3 646.8 V636.7 Q407.8 624.1 429.7 623.3 V633.4"/>
<polyline class="n" points="446.5,616.5 446.5,624.1 454.1,620.7 454.1,613.2 446.5,616.5"/>
<polygon class="w" points="375,656.1 387.7,672.9 387.7,678.9 375,661.1"/>
<polygon class="w" points="387.7,672.9 459.1,640.9 459.1,646.9 387.7,678.9"/>
<polygon class="k" points="375,656.1 444.8,624.9 459.1,640.9 387.7,672.9"/>
<polygon class="w" points="383.4,658.6 444,631.7 449.9,638.4 389.3,665.3"/>
<polyline class="l" points="386.1,661.6 446.7,634.7"/>
<polygon class="g" points="372,713.9 527.5,650.6 587.6,726 429.4,796"/>
<polyline class="l" points="429.4,790 587.6,720.5"/>
<polyline class="l" points="432,784.2 578.3,719.4"/>
<polyline class="l" points="401.7,756.4 432,790.9"/>
<polyline class="l" points="531.7,650.6 577.1,703.6"/>
<polygon class="w" points="524.9,624.1 531.7,630.5 586.3,706.2 579.6,708.7 527.5,650.6"/>
<polyline class="l" points="531.7,630.5 531.7,650.6"/>
<polyline class="l" points="527.5,632.1 527.5,650.6"/>
<polygon class="w" points="367.8,692.9 524.9,624.1 527.5,650.6 372,713.9"/>
<polygon class="w" points="367.8,692.9 524.9,624.1 527.4,628.1 370.6,696.1"/>
<polygon class="w" points="367.8,692.9 371.1,695.4 372,713.9 367.8,715.6"/>
<path class="g" d="M388.8 708.5 V694 Q392.5 686 407.3 685 V700.5 Z"/>
<polyline class="l" points="388.8,708.5 404.8,701.5" style="stroke-width:.6"/>
<polyline class="l" points="388.8,706.9 404.8,699.9" style="stroke-width:.6"/>
<polyline class="l" points="388.8,705.3 404.8,698.3" style="stroke-width:.6"/>
<polyline class="l" points="388.8,703.7 404.8,696.7" style="stroke-width:.6"/>
<polyline class="l" points="404.3,684.5 404.3,701.5"/>
<path class="g" d="M433.4 690.5 V675 Q439.6 667 464.5 660.6 V677.1 Z"/>
<polyline class="l" points="433.4,690.5 462,678.1" style="stroke-width:.6"/>
<polyline class="l" points="433.4,688.9 462,676.5" style="stroke-width:.6"/>
<polyline class="l" points="433.4,687.3 462,674.9" style="stroke-width:.6"/>
<polyline class="l" points="433.4,685.7 462,673.3" style="stroke-width:.6"/>
<polyline class="l" points="461.5,660.1 461.5,678.1"/>
<path class="g" d="M495.5 664 V648.5 Q500.5 640.5 520.7 636.7 V653.2 Z"/>
<polyline class="l" points="495.5,664 518.2,654.2" style="stroke-width:.6"/>
<polyline class="l" points="495.5,662.4 518.2,652.6" style="stroke-width:.6"/>
<polyline class="l" points="495.5,660.8 518.2,651" style="stroke-width:.6"/>
<polyline class="l" points="495.5,659.2 518.2,649.4" style="stroke-width:.6"/>
<polyline class="l" points="517.7,636.2 517.7,654.2"/>
<polygon class="w" points="468,657 473.5,654.5 477.5,656.5 477.5,677.5 472,680 468,678"/>
<polyline class="l" points="468,657 472,659 477.5,656.5"/>
<polyline class="l" points="472,659 472,680"/>
<polygon class="w" points="466.5,658 469.5,656.6 470.5,657.1 470.5,679.1 467.5,680.5 466.5,680"/>
<polyline class="l" points="466.5,658 467.5,658.5 470.5,657.1"/>
<polyline class="l" points="467.5,658.5 467.5,680.5"/>
<polygon class="w" points="432.8,722 440.4,718.6 445.4,721.1 445.4,736.6 437.8,740 432.8,737.5"/>
<polyline class="l" points="432.8,722 437.8,724.5 445.4,721.1"/>
<polyline class="l" points="437.8,724.5 437.8,740"/>
<polygon class="w" points="493.6,697.5 501.2,694.1 506.2,696.6 506.2,711.1 498.6,714.5 493.6,712"/>
<polyline class="l" points="493.6,697.5 498.6,700 506.2,696.6"/>
<polyline class="l" points="498.6,700 498.6,714.5"/>
<polygon class="w" points="460.6,760 469.8,755.9 473.2,757.6 473.2,778.1 464,782.2 460.6,780.5"/>
<polyline class="l" points="460.6,760 464,761.7 473.2,757.6"/>
<polyline class="l" points="464,761.7 464,782.2"/>
<polygon class="w" points="521.1,734 529.7,730.1 532.9,731.7 532.9,751.2 524.3,755.1 521.1,753.5"/>
<polyline class="l" points="521.1,734 524.3,735.6 532.9,731.7"/>
<polyline class="l" points="524.3,735.6 524.3,755.1"/>
<polygon class="w" points="578.3,709.5 585,706.5 587.6,707.8 587.6,727.8 580.9,730.8 578.3,729.5"/>
<polyline class="l" points="578.3,709.5 580.9,710.8 587.6,707.8"/>
<polyline class="l" points="580.9,710.8 580.9,730.8"/>
<polygon class="w" points="552,670 558,667.3 560.4,668.5 560.4,688 554.4,690.7 552,689.5"/>
<polyline class="l" points="552,670 554.4,671.2 560.4,668.5"/>
<polyline class="l" points="554.4,671.2 554.4,690.7"/>
<polyline class="l" points="429.4,774 429.4,796"/>
<polyline class="l" points="427.6,776 427.6,794"/>
<polyline class="l" points="181.3,481.4 338.5,667"/>
<polyline class="l" points="229.8,516 243.9,532"/>
<polyline class="l" points="247.3,554.1 280.3,590.5"/>
<polyline class="l" points="280.3,549.4 280.3,590.5"/>
<polyline class="n2" points="266,543 266,556 272.5,564"/>
<polyline class="n2" points="266,543 276,555 276,568"/>
<polyline class="l" points="340,675.2 367.8,715.6"/>
<polygon class="ra" points="434.8,518.3 430,512.2 433.5,510.8 422.2,505.2 425.3,517.4 427.5,514.3 432.4,520.3"/>
<polygon class="ra" points="470.6,605.3 480.9,620.7 477,621.8 488.9,629 486.8,615.2 484.3,618.5 474,603.1"/>
<polygon class="ra" points="837.7,219.8 846.1,215 848.1,220.1 861,203.2 839.9,205.5 843.2,209.8 834.7,214.6"/>
<polygon class="ka" points="711,248.9 741.7,277.4 736.9,278.5 749.9,283.3 744.2,270.7 743.4,275.6 712.8,247.1"/>
<polygon class="ka" points="557,417.8 530,389.5 534.9,388.8 522.2,383.2 527.2,396.2 528.2,391.3 555.2,419.6"/>
<polygon class="ra" points="493.6,494.5 487.6,487.6 492.3,484.5 473.1,475.4 479.5,495.7 483.2,491.4 489.2,498.3"/>
<polygon class="ra" points="526.7,555.7 517.7,559.4 516.4,554.1 501.4,569.1 522.6,569.4 519.8,564.8 528.9,561.1"/>
<polygon class="ra" points="651.1,750.6 632.9,724.7 637.8,722.2 619.8,711 624.3,731.7 628.3,727.9 646.5,753.8"/>
<polygon class="ka" points="226.3,582.5 264.6,565.6 263.7,570.5 273.2,560.4 259.3,560.7 263.6,563.3 225.3,580.3"/>
<polygon class="f" points="532.6,586.8 536.3,585.3 538.2,587.5 534.5,589" style="fill:#fff"/>
<polygon class="f" points="539.7,584.3 543.4,582.8 545.3,585 541.6,586.5" style="fill:#fff"/>
<polyline class="f" points="530.9,588.6 530.9,591.8"/>
<polyline class="f" points="535.1,597.1 535.1,600.3"/>
<polyline class="f" points="549.4,592.1 549.4,595.3"/>
<polygon class="fw" points="530.9,588.6 545.2,583.6 549.4,592.1 549.4,593 535.1,598 530.9,589.5"/>
<polyline class="f" points="530.9,588.6 535.1,597.1 549.4,592.1"/>
<polygon class="f" points="537.6,599.4 541.3,597.9 543.2,600.1 543.2,602.4 539.5,603.9 537.6,601.7" style="fill:#fff"/>
<polyline class="f" points="537.6,599.4 539.5,601.6 543.2,600.1"/>
<polyline class="f" points="539.5,601.6 539.5,603.9"/>
<polygon class="f" points="544.8,596.9 548.5,595.4 550.4,597.6 550.4,599.9 546.7,601.4 544.8,599.2" style="fill:#fff"/>
<polyline class="f" points="544.8,596.9 546.7,599.1 550.4,597.6"/>
<polyline class="f" points="546.7,599.1 546.7,601.4"/>
<polygon class="f" points="552,578.4 555.7,576.9 557.6,579.1 553.9,580.6" style="fill:#fff"/>
<polygon class="f" points="559.1,575.9 562.8,574.4 564.7,576.6 561,578.1" style="fill:#fff"/>
<polyline class="f" points="550.3,580.2 550.3,583.4"/>
<polyline class="f" points="554.5,588.7 554.5,591.9"/>
<polyline class="f" points="568.8,583.7 568.8,586.9"/>
<polygon class="fw" points="550.3,580.2 564.6,575.2 568.8,583.7 568.8,584.6 554.5,589.6 550.3,581.1"/>
<polyline class="f" points="550.3,580.2 554.5,588.7 568.8,583.7"/>
<polygon class="f" points="557,591 560.7,589.5 562.6,591.7 562.6,594 558.9,595.5 557,593.3" style="fill:#fff"/>
<polyline class="f" points="557,591 558.9,593.2 562.6,591.7"/>
<polyline class="f" points="558.9,593.2 558.9,595.5"/>
<polygon class="f" points="564.2,588.5 567.9,587 569.8,589.2 569.8,591.5 566.1,593 564.2,590.8" style="fill:#fff"/>
<polyline class="f" points="564.2,588.5 566.1,590.7 569.8,589.2"/>
<polyline class="f" points="566.1,590.7 566.1,593"/>
<polygon class="f" points="571.7,570 575.4,568.5 577.3,570.7 573.6,572.2" style="fill:#fff"/>
<polygon class="f" points="578.8,567.5 582.5,566 584.4,568.2 580.7,569.7" style="fill:#fff"/>
<polyline class="f" points="570,571.8 570,575"/>
<polyline class="f" points="574.2,580.3 574.2,583.5"/>
<polyline class="f" points="588.5,575.3 588.5,578.5"/>
<polygon class="fw" points="570,571.8 584.3,566.8 588.5,575.3 588.5,576.2 574.2,581.2 570,572.7"/>
<polyline class="f" points="570,571.8 574.2,580.3 588.5,575.3"/>
<polygon class="f" points="576.7,582.6 580.4,581.1 582.3,583.3 582.3,585.6 578.6,587.1 576.7,584.9" style="fill:#fff"/>
<polyline class="f" points="576.7,582.6 578.6,584.8 582.3,583.3"/>
<polyline class="f" points="578.6,584.8 578.6,587.1"/>
<polygon class="f" points="583.9,580.1 587.6,578.6 589.5,580.8 589.5,583.1 585.8,584.6 583.9,582.4" style="fill:#fff"/>
<polyline class="f" points="583.9,580.1 585.8,582.3 589.5,580.8"/>
<polyline class="f" points="585.8,582.3 585.8,584.6"/>
<polygon class="f" points="545.8,607 549.5,605.5 551.4,607.7 547.7,609.2" style="fill:#fff"/>
<polygon class="f" points="552.9,604.5 556.6,603 558.5,605.2 554.8,606.7" style="fill:#fff"/>
<polyline class="f" points="544.1,608.8 544.1,612"/>
<polyline class="f" points="548.4,617.3 548.4,620.5"/>
<polyline class="f" points="562.6,612.3 562.6,615.5"/>
<polygon class="fw" points="544.1,608.8 558.4,603.8 562.6,612.3 562.6,613.2 548.4,618.2 544.1,609.7"/>
<polyline class="f" points="544.1,608.8 548.4,617.3 562.6,612.3"/>
<polygon class="f" points="550.8,619.6 554.5,618.1 556.4,620.3 556.4,622.6 552.7,624.1 550.8,621.9" style="fill:#fff"/>
<polyline class="f" points="550.8,619.6 552.7,621.8 556.4,620.3"/>
<polyline class="f" points="552.7,621.8 552.7,624.1"/>
<polygon class="f" points="558,617.1 561.7,615.6 563.6,617.8 563.6,620.1 559.9,621.6 558,619.4" style="fill:#fff"/>
<polyline class="f" points="558,617.1 559.9,619.3 563.6,617.8"/>
<polyline class="f" points="559.9,619.3 559.9,621.6"/>
<polygon class="f" points="565.4,598.6 569.1,597.1 571,599.3 567.3,600.8" style="fill:#fff"/>
<polygon class="f" points="572.5,596.1 576.2,594.6 578.1,596.8 574.4,598.3" style="fill:#fff"/>
<polyline class="f" points="563.7,600.4 563.7,603.6"/>
<polyline class="f" points="568,608.9 568,612.1"/>
<polyline class="f" points="582.2,603.9 582.2,607.1"/>
<polygon class="fw" points="563.7,600.4 578,595.4 582.2,603.9 582.2,604.8 568,609.8 563.7,601.3"/>
<polyline class="f" points="563.7,600.4 568,608.9 582.2,603.9"/>
<polygon class="f" points="570.4,611.2 574.1,609.7 576,611.9 576,614.2 572.3,615.7 570.4,613.5" style="fill:#fff"/>
<polyline class="f" points="570.4,611.2 572.3,613.4 576,611.9"/>
<polyline class="f" points="572.3,613.4 572.3,615.7"/>
<polygon class="f" points="577.6,608.7 581.3,607.2 583.2,609.4 583.2,611.7 579.5,613.2 577.6,611" style="fill:#fff"/>
<polyline class="f" points="577.6,608.7 579.5,610.9 583.2,609.4"/>
<polyline class="f" points="579.5,610.9 579.5,613.2"/>
<polygon class="f" points="585.6,590.2 589.3,588.7 591.2,590.9 587.5,592.4" style="fill:#fff"/>
<polygon class="f" points="592.7,587.7 596.4,586.2 598.3,588.4 594.6,589.9" style="fill:#fff"/>
<polyline class="f" points="583.9,592 583.9,595.2"/>
<polyline class="f" points="588.1,600.5 588.1,603.7"/>
<polyline class="f" points="602.4,595.5 602.4,598.7"/>
<polygon class="fw" points="583.9,592 598.2,587 602.4,595.5 602.4,596.4 588.1,601.4 583.9,592.9"/>
<polyline class="f" points="583.9,592 588.1,600.5 602.4,595.5"/>
<polygon class="f" points="590.6,602.8 594.3,601.3 596.2,603.5 596.2,605.8 592.5,607.3 590.6,605.1" style="fill:#fff"/>
<polyline class="f" points="590.6,602.8 592.5,605 596.2,603.5"/>
<polyline class="f" points="592.5,605 592.5,607.3"/>
<polygon class="f" points="597.8,600.3 601.5,598.8 603.4,601 603.4,603.3 599.7,604.8 597.8,602.6" style="fill:#fff"/>
<polyline class="f" points="597.8,600.3 599.7,602.5 603.4,601"/>
<polyline class="f" points="599.7,602.5 599.7,604.8"/>
<polygon class="f" points="559,627.2 562.7,625.7 564.6,627.9 560.9,629.4" style="fill:#fff"/>
<polygon class="f" points="566.1,624.7 569.8,623.2 571.7,625.4 568,626.9" style="fill:#fff"/>
<polyline class="f" points="557.3,629 557.3,632.2"/>
<polyline class="f" points="561.5,637.5 561.5,640.7"/>
<polyline class="f" points="575.8,632.5 575.8,635.7"/>
<polygon class="fw" points="557.3,629 571.6,624 575.8,632.5 575.8,633.4 561.5,638.4 557.3,629.9"/>
<polyline class="f" points="557.3,629 561.5,637.5 575.8,632.5"/>
<polygon class="f" points="564,639.8 567.7,638.3 569.6,640.5 569.6,642.8 565.9,644.3 564,642.1" style="fill:#fff"/>
<polyline class="f" points="564,639.8 565.9,642 569.6,640.5"/>
<polyline class="f" points="565.9,642 565.9,644.3"/>
<polygon class="f" points="571.2,637.3 574.9,635.8 576.8,638 576.8,640.3 573.1,641.8 571.2,639.6" style="fill:#fff"/>
<polyline class="f" points="571.2,637.3 573.1,639.5 576.8,638"/>
<polyline class="f" points="573.1,639.5 573.1,641.8"/>
<polygon class="f" points="578.9,617.9 582.6,616.4 584.5,618.6 580.8,620.1" style="fill:#fff"/>
<polygon class="f" points="586,615.4 589.7,613.9 591.6,616.1 587.9,617.6" style="fill:#fff"/>
<polyline class="f" points="577.2,619.7 577.2,622.9"/>
<polyline class="f" points="581.5,628.2 581.5,631.4"/>
<polyline class="f" points="595.8,623.2 595.8,626.4"/>
<polygon class="fw" points="577.2,619.7 591.5,614.7 595.8,623.2 595.8,624.1 581.5,629.1 577.2,620.6"/>
<polyline class="f" points="577.2,619.7 581.5,628.2 595.8,623.2"/>
<polygon class="f" points="583.9,630.5 587.6,629 589.5,631.2 589.5,633.5 585.8,635 583.9,632.8" style="fill:#fff"/>
<polyline class="f" points="583.9,630.5 585.8,632.7 589.5,631.2"/>
<polyline class="f" points="585.8,632.7 585.8,635"/>
<polygon class="f" points="591.1,628 594.8,626.5 596.7,628.7 596.7,631 593,632.5 591.1,630.3" style="fill:#fff"/>
<polyline class="f" points="591.1,628 593,630.2 596.7,628.7"/>
<polyline class="f" points="593,630.2 593,632.5"/>
<polygon class="f" points="598.7,609.5 602.4,608 604.3,610.2 600.6,611.7" style="fill:#fff"/>
<polygon class="f" points="605.8,607 609.5,605.5 611.4,607.7 607.7,609.2" style="fill:#fff"/>
<polyline class="f" points="597,611.3 597,614.5"/>
<polyline class="f" points="601.2,619.8 601.2,623"/>
<polyline class="f" points="615.5,614.8 615.5,618"/>
<polygon class="fw" points="597,611.3 611.3,606.3 615.5,614.8 615.5,615.7 601.2,620.7 597,612.2"/>
<polyline class="f" points="597,611.3 601.2,619.8 615.5,614.8"/>
<polygon class="f" points="603.7,622.1 607.4,620.6 609.3,622.8 609.3,625.1 605.6,626.6 603.7,624.4" style="fill:#fff"/>
<polyline class="f" points="603.7,622.1 605.6,624.3 609.3,622.8"/>
<polyline class="f" points="605.6,624.3 605.6,626.6"/>
<polygon class="f" points="610.9,619.6 614.6,618.1 616.5,620.3 616.5,622.6 612.8,624.1 610.9,621.9" style="fill:#fff"/>
<polyline class="f" points="610.9,619.6 612.8,621.8 616.5,620.3"/>
<polyline class="f" points="612.8,621.8 612.8,624.1"/>
<polygon class="f" points="539.6,755.5 543.3,754 545.2,756.2 541.5,757.7" style="fill:#fff"/>
<polygon class="f" points="546.7,753 550.4,751.5 552.3,753.7 548.6,755.2" style="fill:#fff"/>
<polyline class="f" points="537.9,757.3 537.9,760.5"/>
<polyline class="f" points="542.1,765.8 542.1,769"/>
<polyline class="f" points="556.4,760.8 556.4,764"/>
<polygon class="fw" points="537.9,757.3 552.2,752.3 556.4,760.8 556.4,761.7 542.1,766.7 537.9,758.2"/>
<polyline class="f" points="537.9,757.3 542.1,765.8 556.4,760.8"/>
<polygon class="f" points="544.6,768.1 548.3,766.6 550.2,768.8 550.2,771.1 546.5,772.6 544.6,770.4" style="fill:#fff"/>
<polyline class="f" points="544.6,768.1 546.5,770.3 550.2,768.8"/>
<polyline class="f" points="546.5,770.3 546.5,772.6"/>
<polygon class="f" points="551.8,765.6 555.5,764.1 557.4,766.3 557.4,768.6 553.7,770.1 551.8,767.9" style="fill:#fff"/>
<polyline class="f" points="551.8,765.6 553.7,767.8 557.4,766.3"/>
<polyline class="f" points="553.7,767.8 553.7,770.1"/>
<polygon class="f" points="559.8,747.1 563.5,745.6 565.4,747.8 561.7,749.3" style="fill:#fff"/>
<polygon class="f" points="566.9,744.6 570.6,743.1 572.5,745.3 568.8,746.8" style="fill:#fff"/>
<polyline class="f" points="558.1,748.9 558.1,752.1"/>
<polyline class="f" points="562.4,757.4 562.4,760.6"/>
<polyline class="f" points="576.6,752.4 576.6,755.6"/>
<polygon class="fw" points="558.1,748.9 572.4,743.9 576.6,752.4 576.6,753.3 562.4,758.3 558.1,749.8"/>
<polyline class="f" points="558.1,748.9 562.4,757.4 576.6,752.4"/>
<polygon class="f" points="564.8,759.7 568.5,758.2 570.4,760.4 570.4,762.7 566.7,764.2 564.8,762" style="fill:#fff"/>
<polyline class="f" points="564.8,759.7 566.7,761.9 570.4,760.4"/>
<polyline class="f" points="566.7,761.9 566.7,764.2"/>
<polygon class="f" points="572,757.2 575.7,755.7 577.6,757.9 577.6,760.2 573.9,761.7 572,759.5" style="fill:#fff"/>
<polyline class="f" points="572,757.2 573.9,759.4 577.6,757.9"/>
<polyline class="f" points="573.9,759.4 573.9,761.7"/>
<polygon class="f" points="579.2,738.7 582.9,737.2 584.8,739.4 581.1,740.9" style="fill:#fff"/>
<polygon class="f" points="586.3,736.2 590,734.7 591.9,736.9 588.2,738.4" style="fill:#fff"/>
<polyline class="f" points="577.5,740.5 577.5,743.7"/>
<polyline class="f" points="581.8,749 581.8,752.2"/>
<polyline class="f" points="596,744 596,747.2"/>
<polygon class="fw" points="577.5,740.5 591.8,735.5 596,744 596,744.9 581.8,749.9 577.5,741.4"/>
<polyline class="f" points="577.5,740.5 581.8,749 596,744"/>
<polygon class="f" points="584.2,751.3 587.9,749.8 589.8,752 589.8,754.3 586.1,755.8 584.2,753.6" style="fill:#fff"/>
<polyline class="f" points="584.2,751.3 586.1,753.5 589.8,752"/>
<polyline class="f" points="586.1,753.5 586.1,755.8"/>
<polygon class="f" points="591.4,748.8 595.1,747.3 597,749.5 597,751.8 593.3,753.3 591.4,751.1" style="fill:#fff"/>
<polyline class="f" points="591.4,748.8 593.3,751 597,749.5"/>
<polyline class="f" points="593.3,751 593.3,753.3"/>
<path class="n" d="M579.7 669.3 V680.3 L596.5 703 V692.9"/>
<path class="n" d="M579.7 669.3 C587.3 654.2 604.1 647.5 615.9 651.7"/>
<path class="n" d="M596.5 692.9 C602.4 677.7 619.2 671.9 631.9 675.2"/>
<polyline class="n" points="579.7,669.3 596.5,692.9"/>
<polyline class="n" points="615.9,651.7 631.9,675.2 631.9,697.9 688.2,671.9"/>
<polyline class="n" points="496.3,585.9 586.3,705.3"/>
<polyline class="n" points="496.3,585.9 496.3,606.9"/>
<path class="n2" d="M502.2 600.2 l6 7.5 v12 l-6 -7.5 z"/>
<path class="n2" d="M514 617 l6 7.5 v12 l-6 -7.5 z"/>
<path class="n2" d="M534.2 642.2 l6 7.5 v12 l-6 -7.5 z"/>
<path class="n2" d="M545.1 657.4 l6 7.5 v12 l-6 -7.5 z"/>
<path class="n2" d="M565.3 682.6 l6 7.5 v12 l-6 -7.5 z"/>
<path class="n2" d="M575.4 697.7 l6 7.5 v12 l-6 -7.5 z"/>
<polyline class="f" points="418.2,700.5 418.2,703.7"/>
<polyline class="f" points="422.7,708 422.7,711.2"/>
<polyline class="f" points="435.7,702.4 435.7,705.6"/>
<polygon class="fg" points="418.2,700.5 431.2,694.9 435.7,702.4 435.7,703.3 422.7,708.9 418.2,701.4"/>
<polyline class="f" points="418.2,700.5 422.7,708 435.7,702.4"/>
<polygon class="f" points="425.1,710.2 428.8,708.7 430.7,710.9 430.7,713.2 427,714.7 425.1,712.5" style="fill:#d4d4d4"/>
<polyline class="f" points="425.1,710.2 427,712.4 430.7,710.9"/>
<polyline class="f" points="427,712.4 427,714.7"/>
<polygon class="f" points="431.6,707.4 435.3,705.9 437.2,708.1 437.2,710.4 433.5,711.9 431.6,709.7" style="fill:#d4d4d4"/>
<polyline class="f" points="431.6,707.4 433.5,709.6 437.2,708.1"/>
<polyline class="f" points="433.5,709.6 433.5,711.9"/>
<polyline class="f" points="481.3,671 481.3,674.2"/>
<polyline class="f" points="485.8,678.5 485.8,681.7"/>
<polyline class="f" points="498.8,672.9 498.8,676.1"/>
<polygon class="fg" points="481.3,671 494.3,665.4 498.8,672.9 498.8,673.8 485.8,679.4 481.3,671.9"/>
<polyline class="f" points="481.3,671 485.8,678.5 498.8,672.9"/>
<polygon class="f" points="488.2,680.8 491.9,679.3 493.8,681.5 493.8,683.8 490.1,685.3 488.2,683.1" style="fill:#d4d4d4"/>
<polyline class="f" points="488.2,680.8 490.1,683 493.8,681.5"/>
<polyline class="f" points="490.1,683 490.1,685.3"/>
<polygon class="f" points="494.7,678 498.4,676.5 500.3,678.7 500.3,681 496.6,682.5 494.7,680.3" style="fill:#d4d4d4"/>
<polyline class="f" points="494.7,678 496.6,680.2 500.3,678.7"/>
<polyline class="f" points="496.6,680.2 496.6,682.5"/>
<polyline class="f" points="482.1,671.7 482.1,674.9"/>
<polyline class="f" points="486.6,679.2 486.6,682.4"/>
<polyline class="f" points="499.6,673.6 499.6,676.8"/>
<polygon class="fg" points="482.1,671.7 495.1,666.1 499.6,673.6 499.6,674.5 486.6,680.1 482.1,672.6"/>
<polyline class="f" points="482.1,671.7 486.6,679.2 499.6,673.6"/>
<polygon class="f" points="488.9,681.4 492.6,679.9 494.5,682.1 494.5,684.4 490.8,685.9 488.9,683.7" style="fill:#d4d4d4"/>
<polyline class="f" points="488.9,681.4 490.8,683.6 494.5,682.1"/>
<polyline class="f" points="490.8,683.6 490.8,685.9"/>
<polygon class="f" points="495.4,678.6 499.1,677.1 501,679.3 501,681.6 497.3,683.1 495.4,680.9" style="fill:#d4d4d4"/>
<polyline class="f" points="495.4,678.6 497.3,680.8 501,679.3"/>
<polyline class="f" points="497.3,680.8 497.3,683.1"/>
<polygon class="fg" points="382.1,716.4 390.6,712.8 396.4,722 387.9,725.6"/>
<polyline class="f" points="382.1,716.4 382.1,719.4"/>
<polyline class="f" points="387.9,725.6 387.9,728.6"/>
<polyline class="f" points="396.4,722 396.4,725"/>
<polygon class="f" points="392.1,716 395.8,714.5 397.7,716.7 397.7,719 394,720.5 392.1,718.3" style="fill:#d4d4d4"/>
<polyline class="f" points="392.1,716 394,718.2 397.7,716.7"/>
<polyline class="f" points="394,718.2 394,720.5"/>
<polygon class="f" points="395.2,720.8 398.9,719.3 400.8,721.5 400.8,723.8 397.1,725.3 395.2,723.1" style="fill:#d4d4d4"/>
<polyline class="f" points="395.2,720.8 397.1,723 400.8,721.5"/>
<polyline class="f" points="397.1,723 397.1,725.3"/>
<polygon class="fg" points="392.1,730.7 400.6,727.1 406.4,736.3 397.9,739.9"/>
<polyline class="f" points="392.1,730.7 392.1,733.7"/>
<polyline class="f" points="397.9,739.9 397.9,742.9"/>
<polyline class="f" points="406.4,736.3 406.4,739.3"/>
<polygon class="f" points="402.1,730.3 405.8,728.8 407.7,731 407.7,733.3 404,734.8 402.1,732.6" style="fill:#d4d4d4"/>
<polyline class="f" points="402.1,730.3 404,732.5 407.7,731"/>
<polyline class="f" points="404,732.5 404,734.8"/>
<polygon class="f" points="405.2,735.1 408.9,733.6 410.8,735.8 410.8,738.1 407.1,739.6 405.2,737.4" style="fill:#d4d4d4"/>
<polyline class="f" points="405.2,735.1 407.1,737.3 410.8,735.8"/>
<polyline class="f" points="407.1,737.3 407.1,739.6"/>
<polygon class="fg" points="412.3,756.8 420.8,753.2 426.6,762.4 418.1,766"/>
<polyline class="f" points="412.3,756.8 412.3,759.8"/>
<polyline class="f" points="418.1,766 418.1,769"/>
<polyline class="f" points="426.6,762.4 426.6,765.4"/>
<polygon class="f" points="422.3,756.4 426,754.9 427.9,757.1 427.9,759.4 424.2,760.9 422.3,758.7" style="fill:#d4d4d4"/>
<polyline class="f" points="422.3,756.4 424.2,758.6 427.9,757.1"/>
<polyline class="f" points="424.2,758.6 424.2,760.9"/>
<polygon class="f" points="425.4,761.2 429.1,759.7 431,761.9 431,764.2 427.3,765.7 425.4,763.5" style="fill:#d4d4d4"/>
<polyline class="f" points="425.4,761.2 427.3,763.4 431,761.9"/>
<polyline class="f" points="427.3,763.4 427.3,765.7"/>
<polygon class="f" points="423.8,717.2 427.5,715.7 429.4,717.9 425.7,719.4" style="fill:#d4d4d4"/>
<polygon class="f" points="429.3,714.9 433,713.4 434.9,715.6 431.2,717.1" style="fill:#d4d4d4"/>
<polyline class="f" points="422.4,719 422.4,722.2"/>
<polyline class="f" points="426.3,725.5 426.3,728.7"/>
<polyline class="f" points="437.3,720.7 437.3,723.9"/>
<polygon class="fg" points="422.4,719 433.4,714.2 437.3,720.7 437.3,721.6 426.3,726.4 422.4,719.9"/>
<polyline class="f" points="422.4,719 426.3,725.5 437.3,720.7"/>
<polyline class="f" points="447.7,722.3 447.7,725.5"/>
<polyline class="f" points="451.6,728.8 451.6,732"/>
<polyline class="f" points="462.6,724.1 462.6,727.3"/>
<polygon class="fg" points="447.7,722.3 458.7,717.6 462.6,724.1 462.6,725 451.6,729.7 447.7,723.2"/>
<polyline class="f" points="447.7,722.3 451.6,728.8 462.6,724.1"/>
<polygon class="f" points="453.8,731.1 457.5,729.6 459.4,731.8 459.4,734.1 455.7,735.6 453.8,733.4" style="fill:#d4d4d4"/>
<polyline class="f" points="453.8,731.1 455.7,733.3 459.4,731.8"/>
<polyline class="f" points="455.7,733.3 455.7,735.6"/>
<polygon class="f" points="459.3,728.8 463,727.3 464.9,729.5 464.9,731.8 461.2,733.3 459.3,731.1" style="fill:#d4d4d4"/>
<polyline class="f" points="459.3,728.8 461.2,731 464.9,729.5"/>
<polyline class="f" points="461.2,731 461.2,733.3"/>
<polyline class="f" points="416.5,735.8 416.5,739"/>
<polyline class="f" points="420.4,742.3 420.4,745.5"/>
<polyline class="f" points="431.4,737.6 431.4,740.8"/>
<polygon class="fg" points="416.5,735.8 427.5,731.1 431.4,737.6 431.4,738.5 420.4,743.2 416.5,736.7"/>
<polyline class="f" points="416.5,735.8 420.4,742.3 431.4,737.6"/>
<polygon class="f" points="422.7,744.6 426.4,743.1 428.3,745.3 428.3,747.6 424.6,749.1 422.7,746.9" style="fill:#d4d4d4"/>
<polyline class="f" points="422.7,744.6 424.6,746.8 428.3,745.3"/>
<polyline class="f" points="424.6,746.8 424.6,749.1"/>
<polygon class="f" points="428.2,742.2 431.9,740.7 433.8,742.9 433.8,745.2 430.1,746.7 428.2,744.5" style="fill:#d4d4d4"/>
<polyline class="f" points="428.2,742.2 430.1,744.4 433.8,742.9"/>
<polyline class="f" points="430.1,744.4 430.1,746.7"/>
<polyline class="f" points="439.2,741.7 439.2,744.9"/>
<polyline class="f" points="443.1,748.2 443.1,751.4"/>
<polyline class="f" points="454.1,743.4 454.1,746.6"/>
<polygon class="fg" points="439.2,741.7 450.2,736.9 454.1,743.4 454.1,744.3 443.1,749.1 439.2,742.6"/>
<polyline class="f" points="439.2,741.7 443.1,748.2 454.1,743.4"/>
<polygon class="f" points="445.4,750.5 449.1,749 451,751.2 451,753.5 447.3,755 445.4,752.8" style="fill:#d4d4d4"/>
<polyline class="f" points="445.4,750.5 447.3,752.7 451,751.2"/>
<polyline class="f" points="447.3,752.7 447.3,755"/>
<polygon class="f" points="450.9,748.1 454.6,746.6 456.5,748.8 456.5,751.1 452.8,752.6 450.9,750.4" style="fill:#d4d4d4"/>
<polyline class="f" points="450.9,748.1 452.8,750.3 456.5,748.8"/>
<polyline class="f" points="452.8,750.3 452.8,752.6"/>
<polygon class="f" points="484.4,692 488.1,690.5 490,692.7 486.3,694.2" style="fill:#d4d4d4"/>
<polygon class="f" points="489.9,689.6 493.6,688.1 495.5,690.3 491.8,691.8" style="fill:#d4d4d4"/>
<polyline class="f" points="483,693.7 483,696.9"/>
<polyline class="f" points="486.9,700.2 486.9,703.4"/>
<polyline class="f" points="497.9,695.5 497.9,698.7"/>
<polygon class="fg" points="483,693.7 494,689 497.9,695.5 497.9,696.4 486.9,701.1 483,694.6"/>
<polyline class="f" points="483,693.7 486.9,700.2 497.9,695.5"/>
<polyline class="f" points="508.2,696.3 508.2,699.5"/>
<polyline class="f" points="512.1,702.8 512.1,706"/>
<polyline class="f" points="523.1,698 523.1,701.2"/>
<polygon class="fg" points="508.2,696.3 519.2,691.5 523.1,698 523.1,698.9 512.1,703.7 508.2,697.2"/>
<polyline class="f" points="508.2,696.3 512.1,702.8 523.1,698"/>
<polygon class="f" points="514.4,705.1 518.1,703.6 520,705.8 520,708.1 516.3,709.6 514.4,707.4" style="fill:#d4d4d4"/>
<polyline class="f" points="514.4,705.1 516.3,707.3 520,705.8"/>
<polyline class="f" points="516.3,707.3 516.3,709.6"/>
<polygon class="f" points="519.9,702.7 523.6,701.2 525.5,703.4 525.5,705.7 521.8,707.2 519.9,705" style="fill:#d4d4d4"/>
<polyline class="f" points="519.9,702.7 521.8,704.9 525.5,703.4"/>
<polyline class="f" points="521.8,704.9 521.8,707.2"/>
<polyline class="f" points="478.8,709.7 478.8,712.9"/>
<polyline class="f" points="482.7,716.2 482.7,719.4"/>
<polyline class="f" points="493.7,711.5 493.7,714.7"/>
<polygon class="fg" points="478.8,709.7 489.8,705 493.7,711.5 493.7,712.4 482.7,717.1 478.8,710.6"/>
<polyline class="f" points="478.8,709.7 482.7,716.2 493.7,711.5"/>
<polygon class="f" points="484.9,718.5 488.6,717 490.5,719.2 490.5,721.5 486.8,723 484.9,720.8" style="fill:#d4d4d4"/>
<polyline class="f" points="484.9,718.5 486.8,720.7 490.5,719.2"/>
<polyline class="f" points="486.8,720.7 486.8,723"/>
<polygon class="f" points="490.4,716.2 494.1,714.7 496,716.9 496,719.2 492.3,720.7 490.4,718.5" style="fill:#d4d4d4"/>
<polyline class="f" points="490.4,716.2 492.3,718.4 496,716.9"/>
<polyline class="f" points="492.3,718.4 492.3,720.7"/>
<polyline class="f" points="499.8,717.3 499.8,720.5"/>
<polyline class="f" points="503.7,723.8 503.7,727"/>
<polyline class="f" points="514.7,719.1 514.7,722.3"/>
<polygon class="fg" points="499.8,717.3 510.8,712.6 514.7,719.1 514.7,720 503.7,724.7 499.8,718.2"/>
<polyline class="f" points="499.8,717.3 503.7,723.8 514.7,719.1"/>
<polygon class="f" points="506,726.1 509.7,724.6 511.6,726.8 511.6,729.1 507.9,730.6 506,728.4" style="fill:#d4d4d4"/>
<polyline class="f" points="506,726.1 507.9,728.3 511.6,726.8"/>
<polyline class="f" points="507.9,728.3 507.9,730.6"/>
<polygon class="f" points="511.5,723.7 515.2,722.2 517.1,724.4 517.1,726.7 513.4,728.2 511.5,726" style="fill:#d4d4d4"/>
<polyline class="f" points="511.5,723.7 513.4,725.9 517.1,724.4"/>
<polyline class="f" points="513.4,725.9 513.4,728.2"/>
<polygon class="fg" points="524.9,660.7 533.4,657.1 539.2,666.3 530.7,669.9"/>
<polyline class="f" points="524.9,660.7 524.9,663.7"/>
<polyline class="f" points="530.7,669.9 530.7,672.9"/>
<polyline class="f" points="539.2,666.3 539.2,669.3"/>
<polygon class="f" points="534.9,660.3 538.6,658.8 540.5,661 540.5,663.3 536.8,664.8 534.9,662.6" style="fill:#d4d4d4"/>
<polyline class="f" points="534.9,660.3 536.8,662.5 540.5,661"/>
<polyline class="f" points="536.8,662.5 536.8,664.8"/>
<polygon class="f" points="538,665.1 541.7,663.6 543.6,665.8 543.6,668.1 539.9,669.6 538,667.4" style="fill:#d4d4d4"/>
<polyline class="f" points="538,665.1 539.9,667.3 543.6,665.8"/>
<polyline class="f" points="539.9,667.3 539.9,669.6"/>
<polygon class="fg" points="535,675 543.5,671.4 549.3,680.6 540.8,684.2"/>
<polyline class="f" points="535,675 535,678"/>
<polyline class="f" points="540.8,684.2 540.8,687.2"/>
<polyline class="f" points="549.3,680.6 549.3,683.6"/>
<polygon class="f" points="545,674.6 548.7,673.1 550.6,675.3 550.6,677.6 546.9,679.1 545,676.9" style="fill:#d4d4d4"/>
<polyline class="f" points="545,674.6 546.9,676.8 550.6,675.3"/>
<polyline class="f" points="546.9,676.8 546.9,679.1"/>
<polygon class="f" points="548.1,679.4 551.8,677.9 553.7,680.1 553.7,682.4 550,683.9 548.1,681.7" style="fill:#d4d4d4"/>
<polyline class="f" points="548.1,679.4 550,681.6 553.7,680.1"/>
<polyline class="f" points="550,681.6 550,683.9"/>
<polygon class="fg" points="549.3,696.1 557.8,692.5 563.6,701.7 555.1,705.3"/>
<polyline class="f" points="549.3,696.1 549.3,699.1"/>
<polyline class="f" points="555.1,705.3 555.1,708.3"/>
<polyline class="f" points="563.6,701.7 563.6,704.7"/>
<polygon class="f" points="559.3,695.7 563,694.2 564.9,696.4 564.9,698.7 561.2,700.2 559.3,698" style="fill:#d4d4d4"/>
<polyline class="f" points="559.3,695.7 561.2,697.9 564.9,696.4"/>
<polyline class="f" points="561.2,697.9 561.2,700.2"/>
<polygon class="f" points="562.4,700.5 566.1,699 568,701.2 568,703.5 564.3,705 562.4,702.8" style="fill:#d4d4d4"/>
<polyline class="f" points="562.4,700.5 564.3,702.7 568,701.2"/>
<polyline class="f" points="564.3,702.7 564.3,705"/>
<polygon class="fg" points="431.1,773.3 450.1,765.1 453.1,770.6 434.1,778.8"/>
<path class="f" d="M433.1 772.4 v-1.8 q1.5 -1.5 3 -1.3 v1.8"/>
<path class="f" d="M438.4 770.1 v-1.8 q1.5 -1.5 3 -1.3 v1.8"/>
<path class="f" d="M443.7 767.8 v-1.8 q1.5 -1.5 3 -1.3 v1.8"/>
<polygon class="fg" points="473.2,754.8 492.2,746.6 495.2,752.1 476.2,760.3"/>
<path class="f" d="M475.2 753.9 v-1.8 q1.5 -1.5 3 -1.3 v1.8"/>
<path class="f" d="M480.5 751.6 v-1.8 q1.5 -1.5 3 -1.3 v1.8"/>
<path class="f" d="M485.8 749.3 v-1.8 q1.5 -1.5 3 -1.3 v1.8"/>
<polygon class="fg" points="492.5,745.5 511.5,737.3 514.5,742.8 495.5,751"/>
<path class="f" d="M494.5 744.6 v-1.8 q1.5 -1.5 3 -1.3 v1.8"/>
<path class="f" d="M499.8 742.3 v-1.8 q1.5 -1.5 3 -1.3 v1.8"/>
<path class="f" d="M505.1 740.1 v-1.8 q1.5 -1.5 3 -1.3 v1.8"/>
<polygon class="fg" points="532.9,727.8 551.9,719.7 554.9,725.2 535.9,733.3"/>
<path class="f" d="M534.9 726.9 v-1.8 q1.5 -1.5 3 -1.3 v1.8"/>
<path class="f" d="M540.2 724.7 v-1.8 q1.5 -1.5 3 -1.3 v1.8"/>
<path class="f" d="M545.5 722.4 v-1.8 q1.5 -1.5 3 -1.3 v1.8"/>
<polygon class="fg" points="555.6,718.6 574.6,710.4 577.6,715.9 558.6,724.1"/>
<path class="f" d="M557.6 717.7 v-1.8 q1.5 -1.5 3 -1.3 v1.8"/>
<path class="f" d="M562.9 715.4 v-1.8 q1.5 -1.5 3 -1.3 v1.8"/>
<path class="f" d="M568.2 713.1 v-1.8 q1.5 -1.5 3 -1.3 v1.8"/>
<polygon class="w" points="432.8,722 440.4,718.6 445.4,721.1 445.4,736.6 437.8,740 432.8,737.5"/>
<polyline class="l" points="432.8,722 437.8,724.5 445.4,721.1"/>
<polyline class="l" points="437.8,724.5 437.8,740"/>
<polygon class="w" points="493.6,697.5 501.2,694.1 506.2,696.6 506.2,711.1 498.6,714.5 493.6,712"/>
<polyline class="l" points="493.6,697.5 498.6,700 506.2,696.6"/>
<polyline class="l" points="498.6,700 498.6,714.5"/>
<polygon class="w" points="460.6,760 469.8,755.9 473.2,757.6 473.2,778.1 464,782.2 460.6,780.5"/>
<polyline class="l" points="460.6,760 464,761.7 473.2,757.6"/>
<polyline class="l" points="464,761.7 464,782.2"/>
<polygon class="w" points="521.1,734 529.7,730.1 532.9,731.7 532.9,751.2 524.3,755.1 521.1,753.5"/>
<polyline class="l" points="521.1,734 524.3,735.6 532.9,731.7"/>
<polyline class="l" points="524.3,735.6 524.3,755.1"/>
<polygon class="w" points="578.3,709.5 585,706.5 587.6,707.8 587.6,727.8 580.9,730.8 578.3,729.5"/>
<polyline class="l" points="578.3,709.5 580.9,710.8 587.6,707.8"/>
<polyline class="l" points="580.9,710.8 580.9,730.8"/>
<polygon class="w" points="552,670 558,667.3 560.4,668.5 560.4,688 554.4,690.7 552,689.5"/>
<polyline class="l" points="552,670 554.4,671.2 560.4,668.5"/>
<polyline class="l" points="554.4,671.2 554.4,690.7"/>
<defs><filter id="nf" x="0" y="0" width="1189" height="841" filterUnits="userSpaceOnUse" color-interpolation-filters="sRGB"><feOffset dx="0" dy="0"/></filter></defs><g filter="url(#nf)"><!--TEXTGROUP-->
<text class="h" x="48.3" y="33.5" font-weight="bold" textLength="129.9" lengthAdjust="spacingAndGlyphs">PROSTOROVÉ SCHÉMA</text>
<text class="h" x="182.1" y="33.5" textLength="92" lengthAdjust="spacingAndGlyphs" style="fill:#333">- PŘÍZEMÍ, PATRO</text>
<text class="t" x="703.1" y="70.3" textLength="71.3" lengthAdjust="spacingAndGlyphs" style="font-size:9.7px">VENKOVNÍ TERASA</text>
<text class="t" x="706.1" y="80.3" textLength="64.9" lengthAdjust="spacingAndGlyphs" style="font-size:9.7px">MIKROPIVOVARU</text>
<text class="t" x="917.4" y="56.9" textLength="25.9" lengthAdjust="spacingAndGlyphs" style="font-size:9.7px">VARNA</text>
<text class="t" x="900.5" y="67" textLength="58.9" lengthAdjust="spacingAndGlyphs" style="font-size:9.7px">MIKROPIVOVAR</text>
<text class="t" x="957.7" y="111.3" textLength="46.1" lengthAdjust="spacingAndGlyphs" style="font-size:9.7px">WORKSHOP</text>
<text class="t" x="714.2" y="163.5" textLength="24.6" lengthAdjust="spacingAndGlyphs" style="font-size:9.7px">SKLAD</text>
<text class="t" x="758.6" y="276.3" textLength="36.6" lengthAdjust="spacingAndGlyphs" style="font-size:9.7px">EXPEDICE</text>
<text class="t" x="760.9" y="286.1" textLength="32.7" lengthAdjust="spacingAndGlyphs" style="font-size:9.7px">PIVOVAR</text>
<text class="t" x="611" y="143" textLength="30.2" lengthAdjust="spacingAndGlyphs" style="font-size:9.7px">STÁČENÍ</text>
<text class="t" x="496.6" y="210.1" textLength="26.2" lengthAdjust="spacingAndGlyphs" style="font-size:9.7px">VARNA</text>
<text class="t" x="413.5" y="254.5" textLength="43.7" lengthAdjust="spacingAndGlyphs" style="font-size:9.7px">ŠROTOVNA</text>
<text class="t" x="363.5" y="295.1" textLength="14.5" lengthAdjust="spacingAndGlyphs" style="font-size:9.7px">SÁL</text>
<text class="t" x="300.8" y="316.1" textLength="32.6" lengthAdjust="spacingAndGlyphs" style="font-size:9.7px">GASTRO</text>
<text class="t" x="246" y="347.4" textLength="49.4" lengthAdjust="spacingAndGlyphs" style="font-size:9.7px">RESTAURACE</text>
<text class="t" x="177" y="392.8" textLength="36" lengthAdjust="spacingAndGlyphs" style="font-size:9.7px">SALONEK</text>
<text class="t" x="172" y="526.2" textLength="31" lengthAdjust="spacingAndGlyphs" style="font-size:9.7px">PŘÍZEMÍ</text>
<text class="t" x="172.6" y="535.9" textLength="29" lengthAdjust="spacingAndGlyphs" style="font-size:9.7px">SKLADY</text>
<text class="t" x="178.7" y="576.3" textLength="25.2" lengthAdjust="spacingAndGlyphs" style="font-size:9.7px">PATRO</text>
<text class="t" x="165.2" y="586.4" textLength="52.2" lengthAdjust="spacingAndGlyphs" style="font-size:9.7px">ZÁSOBOVÁNÍ</text>
<text class="t" x="166.2" y="596.5" textLength="49.5" lengthAdjust="spacingAndGlyphs" style="font-size:9.7px">RESTAURACE</text>
<text class="t" x="238.6" y="615.3" textLength="30.9" lengthAdjust="spacingAndGlyphs" style="font-size:9.7px">PŘÍZEMÍ</text>
<text class="t" x="237.9" y="625.8" textLength="31.6" lengthAdjust="spacingAndGlyphs" style="font-size:9.7px">GASTRO</text>
<text class="t" x="273.9" y="660.4" textLength="32" lengthAdjust="spacingAndGlyphs" style="font-size:9.7px">GASTRO</text>
<text class="t" x="292" y="703.5" textLength="47.2" lengthAdjust="spacingAndGlyphs" style="font-size:9.7px">BAR / VÝČEP</text>
<text class="t" x="347.6" y="766.7" textLength="29.6" lengthAdjust="spacingAndGlyphs" style="font-size:9.7px">PIVNICE</text>
<text class="t" x="321.5" y="548.7" textLength="12.5" lengthAdjust="spacingAndGlyphs" style="font-size:9.7px">WC</text>
<text class="t" x="374.5" y="477.6" textLength="15.5" lengthAdjust="spacingAndGlyphs" style="font-size:9.7px">BAR</text>
<text class="t" x="561.8" y="409.5" textLength="51.5" lengthAdjust="spacingAndGlyphs" style="font-size:9.7px">ZÁSOBOVÁNÍ</text>
<text class="t" x="570.5" y="419.6" textLength="33.3" lengthAdjust="spacingAndGlyphs" style="font-size:9.7px">PIVOVAR</text>
<text class="t" x="560.1" y="533.3" textLength="28.6" lengthAdjust="spacingAndGlyphs" style="font-size:9.7px">HVOZD</text>
<text class="t" x="673.8" y="730.5" textLength="26.9" lengthAdjust="spacingAndGlyphs" style="font-size:9.7px">BRÁNA</text>
<text class="t r" x="795.6" y="239.6" textLength="107.3" lengthAdjust="spacingAndGlyphs" style="font-size:9.7px">VSTUP DO MIKROPIVOVARU</text>
<text class="t r" x="503.2" y="495.3" textLength="82.1" lengthAdjust="spacingAndGlyphs" style="font-size:9.7px">VSTUP DO PIVOVARU</text>
<text class="t r" x="508.3" y="543.4" textLength="131.9" lengthAdjust="spacingAndGlyphs" style="font-size:9.7px">VSTUP DO PIVNICE A RESTAURACE</text>
<text class="t r" x="659.7" y="740.6" textLength="54.5" lengthAdjust="spacingAndGlyphs" style="font-size:9.7px">HLAVNÍ VSTUP</text>
<text class="s" x="624.6" y="598.9" textLength="35.9" lengthAdjust="spacingAndGlyphs" style="font-size:7.9px">ZAHRÁDKA</text>
<text class="s" x="627.6" y="607.3" textLength="30.7" lengthAdjust="spacingAndGlyphs" style="font-size:7.9px">VE DVOŘE</text>
<text class="s" x="560.6" y="782.7" textLength="36.2" lengthAdjust="spacingAndGlyphs" style="font-size:7.9px">ZAHRÁDKA</text>
<text class="s" x="559.5" y="790.6" textLength="37.6" lengthAdjust="spacingAndGlyphs" style="font-size:7.9px">NA NÁMĚSTÍ</text>
<text class="m" x="355.2" y="305" textLength="27.7" lengthAdjust="spacingAndGlyphs" style="font-size:8.1px">rezerva</text>
<text class="m" x="304.2" y="324" textLength="26.9" lengthAdjust="spacingAndGlyphs" style="font-size:8.1px">viditelné</text>
<text class="m" x="244.3" y="355.6" textLength="53.1" lengthAdjust="spacingAndGlyphs" style="font-size:8.1px">kapacita 65 osob</text>
<text class="m" x="181" y="401.7" textLength="28" lengthAdjust="spacingAndGlyphs" style="font-size:8.1px">rezerva</text>
<text class="m" x="334.1" y="774.6" textLength="56.5" lengthAdjust="spacingAndGlyphs" style="font-size:8.1px">kapacita 105 osob</text>
<text class="lh" x="938.5" y="435.8" textLength="75.3" lengthAdjust="spacingAndGlyphs" style="font-size:13.2px">NÁVŠTĚVNÍCI</text>
<polygon class="ra" points="945,461.9 945,481.3 962.6,471.5"/>
<text class="lg" x="982.1" y="476" textLength="103.2" lengthAdjust="spacingAndGlyphs" style="font-size:13.6px">vstupy návštěvníci</text>
<rect x="936.9" y="494.5" width="31.6" height="17.2" fill="#d4d4d4" stroke="#333" stroke-width=".9"/>
<text class="lg" x="984.5" y="506.8" textLength="137.2" lengthAdjust="spacingAndGlyphs" style="font-size:13.6px">prostory pro návštěvníky</text>
<line x1="937.2" y1="532" x2="967.8" y2="532" stroke="#c4172c" stroke-width="2"/>
<text class="lg" x="984.5" y="536.8" textLength="95.1" lengthAdjust="spacingAndGlyphs" style="font-size:13.6px">propojení prostor</text>
<line x1="938.5" y1="559.3" x2="966.8" y2="559.3" stroke="#c4172c" stroke-width="1.7" stroke-dasharray="1.6 2.3"/>
<text class="lg" x="984.5" y="563.5" textLength="89.1" lengthAdjust="spacingAndGlyphs" style="font-size:13.6px">vizuální kontakt</text>
<text class="lh" x="938.5" y="638.8" textLength="61.5" lengthAdjust="spacingAndGlyphs" style="font-size:13.2px">PERSONÁL</text>
<polygon class="ka" points="948.1,664.2 948.1,683.7 965.2,674.1"/>
<text class="lg" x="987.1" y="679" textLength="88.3" lengthAdjust="spacingAndGlyphs" style="font-size:13.6px">vstupy personál</text>
<rect x="939.5" y="697.7" width="31.2" height="16.2" fill="#fff" stroke="#333" stroke-width=".9"/>
<text class="lg" x="987.1" y="707.2" textLength="119" lengthAdjust="spacingAndGlyphs" style="font-size:13.6px">prostory pro personál</text>
<line x1="939.8" y1="732.5" x2="970.4" y2="732.5" stroke="#1c1c1c" stroke-width="2"/>
<text class="lg" x="987.1" y="737.1" textLength="95.1" lengthAdjust="spacingAndGlyphs" style="font-size:13.6px">propojení prostor</text>
<line x1="939.3" y1="761.1" x2="971" y2="761.1" stroke="#1c1c1c" stroke-width="1.7" stroke-dasharray="1.6 2.3"/>
<text class="lg" x="987.1" y="764.9" textLength="89.1" lengthAdjust="spacingAndGlyphs" style="font-size:13.6px">vizuální kontakt</text>
</g>
</svg>
</body>
</html>
